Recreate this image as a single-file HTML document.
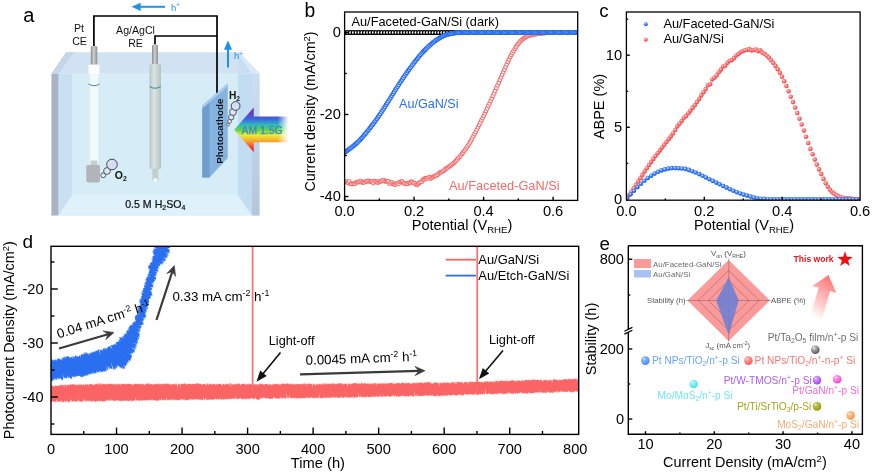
<!DOCTYPE html>
<html><head><meta charset="utf-8"><title>Figure</title>
<style>html,body{margin:0;padding:0;background:#fff;}svg{display:block;}text{font-family:"Liberation Sans", Arial, sans-serif;}</style>
</head><body>
<svg width="872" height="472" viewBox="0 0 872 472">
<rect width="872" height="472" fill="#fff"/>
<g id="panel-a">
<defs>
<linearGradient id="rainbow" x1="0" y1="0" x2="0" y2="1">
<stop offset="0" stop-color="#7a2aa8"/><stop offset="0.14" stop-color="#6440c8"/><stop offset="0.26" stop-color="#3a66dc"/><stop offset="0.38" stop-color="#2fb4c4"/>
<stop offset="0.5" stop-color="#5fd540"/><stop offset="0.62" stop-color="#ecec38"/><stop offset="0.76" stop-color="#f8a02a"/><stop offset="0.9" stop-color="#f03a34"/><stop offset="1" stop-color="#e82030"/>
</linearGradient>
<linearGradient id="fadeR" x1="0" y1="0" x2="1" y2="0"><stop offset="0" stop-color="#fff"/><stop offset="0.8" stop-color="#fff"/><stop offset="0.97" stop-color="#000"/></linearGradient>
<mask id="mfade"><rect x="228" y="100" width="62" height="60" fill="url(#fadeR)"/></mask>
<linearGradient id="rodg" x1="0" y1="0" x2="1" y2="0"><stop offset="0" stop-color="#8a8a8a"/><stop offset="0.45" stop-color="#cfcfcf"/><stop offset="1" stop-color="#8f8f8f"/></linearGradient>
<linearGradient id="tubeg" x1="0" y1="0" x2="1" y2="0"><stop offset="0" stop-color="#d6eaee"/><stop offset="0.25" stop-color="#f2fcfd"/><stop offset="0.8" stop-color="#eefafc"/><stop offset="1" stop-color="#d3e6ea"/></linearGradient>
<linearGradient id="reg" x1="0" y1="0" x2="1" y2="0"><stop offset="0" stop-color="#b7c5c5"/><stop offset="0.4" stop-color="#dbe5e4"/><stop offset="1" stop-color="#b4c2c2"/></linearGradient>
<linearGradient id="rwg" x1="0" y1="0" x2="0" y2="1"><stop offset="0" stop-color="#cbdef2"/><stop offset="0.45" stop-color="#c0d3ea"/><stop offset="1" stop-color="#b5c5dc"/></linearGradient>
<filter id="blur1"><feGaussianBlur stdDeviation="0.55"/></filter>
</defs>
<polygon points="66.0,52.3 239.0,52.3 259.5,73.7 51.5,73.7" fill="#d1e2f3" stroke="none" stroke-width="1.00" />
<polygon points="66.0,52.3 74.0,52.3 58.5,73.7 51.5,73.7" fill="#c3d6e9" stroke="none" stroke-width="1.00" />
<polygon points="239.0,52.3 259.5,73.7 238.0,73.7 238.0,52.3" fill="#c9def3" stroke="none" stroke-width="1.00" />
<polygon points="239.0,52.3 259.5,73.7 252.0,73.7 241.0,58.0" fill="#dae8f7" stroke="none" stroke-width="1.00" />
<rect x="51.50" y="73.70" width="208.00" height="141.80" fill="#d6ecf7" stroke="none" stroke-width="1.00" />
<polygon points="72.0,195.0 238.0,195.0 252.0,215.5 58.3,215.5" fill="#dff1fa" stroke="none" stroke-width="1.00" />
<polygon points="58.3,73.7 72.0,73.7 72.0,195.0 58.3,215.5" fill="#c8e0f1" stroke="none" stroke-width="1.00" />
<rect x="51.50" y="73.70" width="6.80" height="141.80" fill="#a8b4c4" stroke="none" stroke-width="1.00" />
<polygon points="238.0,73.7 252.0,73.7 252.0,215.5 238.0,195.0" fill="#c2dcf2" stroke="none" stroke-width="1.00" />
<rect x="252.00" y="73.70" width="7.50" height="141.80" fill="url(#rwg)" stroke="none" stroke-width="1.00" />
<path d="M93.9 46.5 V16 H217 V94" fill="none" stroke="#000" stroke-width="1.7"/>
<path d="M155 44.5 V36 H217" fill="none" stroke="#000" stroke-width="1.7"/>
<rect x="90.80" y="46.00" width="6.50" height="19.00" fill="url(#rodg)" stroke="none" stroke-width="1.00" rx="1.5"/>
<rect x="88.30" y="64.70" width="11.40" height="10.00" fill="#fbfdfe" stroke="#dde6ea" stroke-width="0.40" />
<rect x="88.30" y="74.40" width="11.40" height="87.00" fill="url(#tubeg)" stroke="none" stroke-width="1.00" />
<path d="M88.5 84 Q94 87.5 99.5 84" fill="none" stroke="#2f5f8f" stroke-width="0.8"/>
<rect x="91.00" y="160.50" width="6.00" height="5.00" fill="#c9cfd0" stroke="none" stroke-width="1.00" />
<rect x="86.30" y="165.00" width="13.70" height="17.50" fill="#aeb3b6" stroke="none" stroke-width="1.00" rx="2"/>
<line x1="86.50" y1="167.00" x2="99.80" y2="167.00" stroke="#babfc1" stroke-width="0.50" />
<line x1="86.50" y1="169.00" x2="99.80" y2="169.00" stroke="#babfc1" stroke-width="0.50" />
<line x1="86.50" y1="171.00" x2="99.80" y2="171.00" stroke="#babfc1" stroke-width="0.50" />
<line x1="86.50" y1="173.00" x2="99.80" y2="173.00" stroke="#babfc1" stroke-width="0.50" />
<line x1="86.50" y1="175.00" x2="99.80" y2="175.00" stroke="#babfc1" stroke-width="0.50" />
<line x1="86.50" y1="177.00" x2="99.80" y2="177.00" stroke="#babfc1" stroke-width="0.50" />
<line x1="86.50" y1="179.00" x2="99.80" y2="179.00" stroke="#babfc1" stroke-width="0.50" />
<line x1="86.50" y1="181.00" x2="99.80" y2="181.00" stroke="#babfc1" stroke-width="0.50" />
<circle cx="103.20" cy="175.30" r="2.40" fill="#e8ecf8" stroke="#222" stroke-width="0.70" />
<circle cx="107.00" cy="171.00" r="3.40" fill="#dfe5f6" stroke="#222" stroke-width="0.70" />
<circle cx="112.00" cy="164.50" r="5.30" fill="#d6def5" stroke="#222" stroke-width="0.80" />
<text x="114.80" y="178.60" font-size="10.50" text-anchor="start" fill="#111" font-weight="bold" >O<tspan dy="2.10" font-size="6.93">2</tspan></text>
<rect x="152.00" y="44.50" width="6.00" height="20.00" fill="url(#rodg)" stroke="none" stroke-width="1.00" rx="1.5"/>
<rect x="149.50" y="64.00" width="11.50" height="105.00" fill="url(#reg)" stroke="none" stroke-width="1.00" rx="1.5"/>
<path d="M149.7 86.5 Q155 90 160.8 86.5" fill="none" stroke="#2f5f8f" stroke-width="0.8"/>
<path d="M152.3 168.5 V179.5 Q155.3 184 158.3 179.5 V168.5 Z" fill="#c3cfcf"/>
<circle cx="155.30" cy="180.00" r="2.00" fill="#f6fafa" stroke="none" stroke-width="1.00" />
<polygon points="202.3,105.6 227.7,83.4 227.7,158.0 209.5,177.4 202.3,177.4" fill="#84b3df" stroke="none" stroke-width="1.00" />
<polygon points="202.3,108.4 209.5,102.2 209.5,177.4 202.3,177.4" fill="#6f9dcd" stroke="none" stroke-width="1.00" />
<polygon points="202.3,105.6 227.7,83.4 227.7,86.4 202.3,108.6" fill="#a8ccea" stroke="none" stroke-width="1.00" />
<text x="222.80" y="131.20" font-size="9.80" text-anchor="middle" fill="#111" font-weight="bold" transform="rotate(-90 222.80 131.20)" >Photocathode</text>
<circle cx="228.20" cy="124.50" r="1.40" fill="#eef" stroke="#222" stroke-width="0.60" />
<circle cx="229.60" cy="121.30" r="1.90" fill="#e8ecf8" stroke="#222" stroke-width="0.60" />
<circle cx="231.20" cy="117.20" r="2.70" fill="#e3e8f7" stroke="#222" stroke-width="0.70" />
<circle cx="233.00" cy="112.00" r="3.40" fill="#dfe5f6" stroke="#222" stroke-width="0.70" />
<circle cx="235.60" cy="106.00" r="4.40" fill="#d6def5" stroke="#222" stroke-width="0.80" />
<text x="229.00" y="98.80" font-size="10.20" text-anchor="start" fill="#111" font-weight="bold" >H<tspan dy="2.04" font-size="6.73">2</tspan></text>
<g mask="url(#mfade)" filter="url(#blur1)"><polygon points="234.3,129.8 253.8,107.5 253.8,116.6 290,116.6 290,142.2 253.8,142.2 253.8,152.2" fill="url(#rainbow)"/></g>
<text x="262.00" y="133.60" font-size="10.40" text-anchor="middle" fill="#3d80d4" font-weight="normal" stroke="#3d80d4" stroke-width="0.25">AM 1.5G</text>
<text x="155.30" y="207.50" font-size="10.60" text-anchor="middle" fill="#111" font-weight="normal" stroke="#111" stroke-width="0.22">0.5 M H<tspan dy="2.12" font-size="7.00">2</tspan><tspan dy="-2.12">SO</tspan><tspan dy="2.12" font-size="7.00">4</tspan></text>
<line x1="165.00" y1="6.80" x2="139.70" y2="6.80" stroke="#2191e8" stroke-width="2.00" />
<polygon points="131.5,6.8 140.7,2.7 140.7,10.9" fill="#2191e8" stroke="none" stroke-width="1.00" />
<text x="171.00" y="10.50" font-size="9.50" text-anchor="start" fill="#2191e8" font-weight="normal" >h<tspan dy="-3.42" font-size="6.27">+</tspan></text>
<line x1="228.00" y1="67.50" x2="228.00" y2="48.70" stroke="#2191e8" stroke-width="2.00" />
<polygon points="228.0,40.5 232.1,49.7 223.9,49.7" fill="#2191e8" stroke="none" stroke-width="1.00" />
<text x="234.00" y="59.00" font-size="9.50" text-anchor="start" fill="#2191e8" font-weight="normal" >h<tspan dy="-3.42" font-size="6.27">+</tspan></text>
<text x="23.30" y="22.10" font-size="20.00" text-anchor="start" fill="#000" font-weight="normal" >a</text>
<text x="79.00" y="31.80" font-size="10.60" text-anchor="middle" fill="#111" font-weight="normal" >Pt</text>
<text x="79.50" y="45.00" font-size="10.60" text-anchor="middle" fill="#111" font-weight="normal" >CE</text>
<text x="135.50" y="34.20" font-size="10.60" text-anchor="middle" fill="#111" font-weight="normal" >Ag/AgCl</text>
<text x="135.50" y="47.00" font-size="10.60" text-anchor="middle" fill="#111" font-weight="normal" >RE</text>
</g>
<g id="panel-b">
<clipPath id="clipb"><rect x="344.6" y="12.0" width="233.1" height="188.4"/></clipPath><g clip-path="url(#clipb)">
<g fill="#fff" stroke="#000" stroke-width="1.30">
<circle cx="344.6" cy="32.5" r="1.90"/>
<circle cx="347.4" cy="32.5" r="1.90"/>
<circle cx="350.3" cy="32.5" r="1.90"/>
<circle cx="353.1" cy="32.5" r="1.90"/>
<circle cx="356.0" cy="32.5" r="1.90"/>
<circle cx="358.8" cy="32.5" r="1.90"/>
<circle cx="361.7" cy="32.5" r="1.90"/>
<circle cx="364.5" cy="32.5" r="1.90"/>
<circle cx="367.4" cy="32.5" r="1.90"/>
<circle cx="370.2" cy="32.5" r="1.90"/>
<circle cx="373.1" cy="32.5" r="1.90"/>
<circle cx="375.9" cy="32.5" r="1.90"/>
<circle cx="378.8" cy="32.5" r="1.90"/>
<circle cx="381.6" cy="32.5" r="1.90"/>
<circle cx="384.5" cy="32.5" r="1.90"/>
<circle cx="387.3" cy="32.5" r="1.90"/>
<circle cx="390.2" cy="32.5" r="1.90"/>
<circle cx="393.0" cy="32.5" r="1.90"/>
<circle cx="395.9" cy="32.5" r="1.90"/>
<circle cx="398.7" cy="32.5" r="1.90"/>
<circle cx="401.6" cy="32.5" r="1.90"/>
<circle cx="404.4" cy="32.5" r="1.90"/>
<circle cx="407.3" cy="32.5" r="1.90"/>
<circle cx="410.1" cy="32.5" r="1.90"/>
<circle cx="413.0" cy="32.5" r="1.90"/>
<circle cx="415.8" cy="32.5" r="1.90"/>
<circle cx="418.7" cy="32.5" r="1.90"/>
<circle cx="421.5" cy="32.5" r="1.90"/>
<circle cx="424.4" cy="32.5" r="1.90"/>
<circle cx="427.2" cy="32.5" r="1.90"/>
<circle cx="430.1" cy="32.5" r="1.90"/>
<circle cx="432.9" cy="32.5" r="1.90"/>
<circle cx="435.8" cy="32.5" r="1.90"/>
<circle cx="438.6" cy="32.5" r="1.90"/>
<circle cx="441.5" cy="32.5" r="1.90"/>
<circle cx="444.3" cy="32.5" r="1.90"/>
<circle cx="447.2" cy="32.5" r="1.90"/>
<circle cx="450.0" cy="32.5" r="1.90"/>
<circle cx="452.9" cy="32.5" r="1.90"/>
<circle cx="455.7" cy="32.5" r="1.90"/>
<circle cx="458.6" cy="32.5" r="1.90"/>
<circle cx="461.4" cy="32.5" r="1.90"/>
<circle cx="464.3" cy="32.5" r="1.90"/>
<circle cx="467.1" cy="32.5" r="1.90"/>
<circle cx="470.0" cy="32.5" r="1.90"/>
<circle cx="472.8" cy="32.5" r="1.90"/>
<circle cx="475.7" cy="32.5" r="1.90"/>
<circle cx="478.5" cy="32.5" r="1.90"/>
<circle cx="481.4" cy="32.5" r="1.90"/>
<circle cx="484.2" cy="32.5" r="1.90"/>
<circle cx="487.1" cy="32.5" r="1.90"/>
<circle cx="489.9" cy="32.5" r="1.90"/>
<circle cx="492.8" cy="32.5" r="1.90"/>
<circle cx="495.6" cy="32.5" r="1.90"/>
<circle cx="498.5" cy="32.5" r="1.90"/>
<circle cx="501.3" cy="32.5" r="1.90"/>
<circle cx="504.2" cy="32.5" r="1.90"/>
<circle cx="507.0" cy="32.5" r="1.90"/>
<circle cx="509.9" cy="32.5" r="1.90"/>
<circle cx="512.7" cy="32.5" r="1.90"/>
<circle cx="515.6" cy="32.5" r="1.90"/>
<circle cx="518.4" cy="32.5" r="1.90"/>
<circle cx="521.3" cy="32.5" r="1.90"/>
<circle cx="524.1" cy="32.5" r="1.90"/>
<circle cx="527.0" cy="32.5" r="1.90"/>
<circle cx="529.8" cy="32.5" r="1.90"/>
<circle cx="532.7" cy="32.5" r="1.90"/>
<circle cx="535.5" cy="32.5" r="1.90"/>
<circle cx="538.4" cy="32.5" r="1.90"/>
<circle cx="541.2" cy="32.5" r="1.90"/>
<circle cx="544.1" cy="32.5" r="1.90"/>
<circle cx="546.9" cy="32.5" r="1.90"/>
<circle cx="549.8" cy="32.5" r="1.90"/>
<circle cx="552.6" cy="32.5" r="1.90"/>
<circle cx="555.5" cy="32.5" r="1.90"/>
<circle cx="558.3" cy="32.5" r="1.90"/>
<circle cx="561.2" cy="32.5" r="1.90"/>
<circle cx="564.0" cy="32.5" r="1.90"/>
<circle cx="566.9" cy="32.5" r="1.90"/>
<circle cx="569.7" cy="32.5" r="1.90"/>
<circle cx="572.6" cy="32.5" r="1.90"/>
<circle cx="575.4" cy="32.5" r="1.90"/>
</g>
<g fill="#fff" stroke="#f56a6a" stroke-width="1.05">
<circle cx="344.6" cy="181.8" r="1.85"/>
<circle cx="345.8" cy="181.6" r="1.85"/>
<circle cx="346.9" cy="181.7" r="1.85"/>
<circle cx="348.0" cy="182.9" r="1.85"/>
<circle cx="349.2" cy="181.7" r="1.85"/>
<circle cx="350.3" cy="183.8" r="1.85"/>
<circle cx="351.5" cy="183.7" r="1.85"/>
<circle cx="352.6" cy="184.1" r="1.85"/>
<circle cx="353.8" cy="183.8" r="1.85"/>
<circle cx="354.9" cy="183.7" r="1.85"/>
<circle cx="356.1" cy="182.5" r="1.85"/>
<circle cx="357.2" cy="181.8" r="1.85"/>
<circle cx="358.4" cy="182.2" r="1.85"/>
<circle cx="359.5" cy="181.8" r="1.85"/>
<circle cx="360.7" cy="181.0" r="1.85"/>
<circle cx="361.8" cy="182.5" r="1.85"/>
<circle cx="363.0" cy="182.3" r="1.85"/>
<circle cx="364.1" cy="182.4" r="1.85"/>
<circle cx="365.3" cy="181.5" r="1.85"/>
<circle cx="366.4" cy="181.6" r="1.85"/>
<circle cx="367.6" cy="181.2" r="1.85"/>
<circle cx="368.7" cy="180.8" r="1.85"/>
<circle cx="369.9" cy="181.4" r="1.85"/>
<circle cx="371.0" cy="181.7" r="1.85"/>
<circle cx="372.2" cy="181.6" r="1.85"/>
<circle cx="373.3" cy="183.1" r="1.85"/>
<circle cx="374.5" cy="181.2" r="1.85"/>
<circle cx="375.6" cy="181.6" r="1.85"/>
<circle cx="376.8" cy="181.6" r="1.85"/>
<circle cx="377.9" cy="182.7" r="1.85"/>
<circle cx="379.1" cy="181.8" r="1.85"/>
<circle cx="380.2" cy="181.7" r="1.85"/>
<circle cx="381.4" cy="181.1" r="1.85"/>
<circle cx="382.5" cy="180.7" r="1.85"/>
<circle cx="383.7" cy="180.1" r="1.85"/>
<circle cx="384.8" cy="181.3" r="1.85"/>
<circle cx="386.0" cy="181.2" r="1.85"/>
<circle cx="387.1" cy="181.8" r="1.85"/>
<circle cx="388.3" cy="181.3" r="1.85"/>
<circle cx="389.4" cy="183.6" r="1.85"/>
<circle cx="390.6" cy="182.3" r="1.85"/>
<circle cx="391.7" cy="182.3" r="1.85"/>
<circle cx="392.9" cy="183.8" r="1.85"/>
<circle cx="394.0" cy="184.3" r="1.85"/>
<circle cx="395.2" cy="184.6" r="1.85"/>
<circle cx="396.3" cy="183.3" r="1.85"/>
<circle cx="397.5" cy="183.7" r="1.85"/>
<circle cx="398.6" cy="183.8" r="1.85"/>
<circle cx="399.8" cy="182.0" r="1.85"/>
<circle cx="400.9" cy="181.9" r="1.85"/>
<circle cx="402.1" cy="181.4" r="1.85"/>
<circle cx="403.2" cy="182.8" r="1.85"/>
<circle cx="404.4" cy="183.4" r="1.85"/>
<circle cx="405.5" cy="183.7" r="1.85"/>
<circle cx="406.7" cy="183.8" r="1.85"/>
<circle cx="407.8" cy="183.9" r="1.85"/>
<circle cx="409.0" cy="182.8" r="1.85"/>
<circle cx="410.1" cy="182.8" r="1.85"/>
<circle cx="411.3" cy="181.6" r="1.85"/>
<circle cx="412.4" cy="181.9" r="1.85"/>
<circle cx="413.6" cy="183.0" r="1.85"/>
<circle cx="414.7" cy="183.2" r="1.85"/>
<circle cx="415.9" cy="184.5" r="1.85"/>
<circle cx="417.0" cy="185.1" r="1.85"/>
<circle cx="418.2" cy="184.1" r="1.85"/>
<circle cx="419.3" cy="182.8" r="1.85"/>
<circle cx="420.5" cy="181.9" r="1.85"/>
<circle cx="421.6" cy="182.0" r="1.85"/>
<circle cx="422.8" cy="179.9" r="1.85"/>
<circle cx="423.9" cy="179.4" r="1.85"/>
<circle cx="425.1" cy="178.4" r="1.85"/>
<circle cx="426.2" cy="178.0" r="1.85"/>
<circle cx="427.4" cy="178.4" r="1.85"/>
<circle cx="428.5" cy="177.5" r="1.85"/>
<circle cx="429.7" cy="177.2" r="1.85"/>
<circle cx="430.8" cy="178.6" r="1.85"/>
<circle cx="432.0" cy="177.6" r="1.85"/>
<circle cx="433.1" cy="177.1" r="1.85"/>
<circle cx="434.3" cy="176.1" r="1.85"/>
<circle cx="435.4" cy="175.9" r="1.85"/>
<circle cx="436.6" cy="175.4" r="1.85"/>
<circle cx="437.7" cy="174.7" r="1.85"/>
<circle cx="438.9" cy="173.4" r="1.85"/>
<circle cx="440.0" cy="172.7" r="1.85"/>
<circle cx="441.2" cy="172.3" r="1.85"/>
<circle cx="442.3" cy="171.5" r="1.85"/>
<circle cx="443.5" cy="171.0" r="1.85"/>
<circle cx="444.6" cy="169.9" r="1.85"/>
<circle cx="445.8" cy="168.7" r="1.85"/>
<circle cx="446.9" cy="168.3" r="1.85"/>
<circle cx="448.1" cy="167.4" r="1.85"/>
<circle cx="449.2" cy="166.5" r="1.85"/>
<circle cx="450.4" cy="165.8" r="1.85"/>
<circle cx="451.5" cy="164.8" r="1.85"/>
<circle cx="452.7" cy="163.8" r="1.85"/>
<circle cx="453.8" cy="163.0" r="1.85"/>
<circle cx="455.0" cy="161.8" r="1.85"/>
<circle cx="456.1" cy="160.7" r="1.85"/>
<circle cx="457.3" cy="159.4" r="1.85"/>
<circle cx="458.4" cy="158.1" r="1.85"/>
<circle cx="459.6" cy="156.8" r="1.85"/>
<circle cx="460.7" cy="155.5" r="1.85"/>
<circle cx="461.9" cy="154.0" r="1.85"/>
<circle cx="463.0" cy="152.6" r="1.85"/>
<circle cx="464.2" cy="151.1" r="1.85"/>
<circle cx="465.3" cy="149.5" r="1.85"/>
<circle cx="466.5" cy="147.9" r="1.85"/>
<circle cx="467.6" cy="146.2" r="1.85"/>
<circle cx="468.8" cy="144.4" r="1.85"/>
<circle cx="469.9" cy="142.4" r="1.85"/>
<circle cx="471.1" cy="140.5" r="1.85"/>
<circle cx="472.2" cy="138.4" r="1.85"/>
<circle cx="473.4" cy="136.3" r="1.85"/>
<circle cx="474.5" cy="134.1" r="1.85"/>
<circle cx="475.7" cy="131.9" r="1.85"/>
<circle cx="476.8" cy="129.6" r="1.85"/>
<circle cx="478.0" cy="127.3" r="1.85"/>
<circle cx="479.1" cy="125.0" r="1.85"/>
<circle cx="480.3" cy="122.7" r="1.85"/>
<circle cx="481.4" cy="120.4" r="1.85"/>
<circle cx="482.6" cy="118.1" r="1.85"/>
<circle cx="483.7" cy="115.8" r="1.85"/>
<circle cx="484.9" cy="113.4" r="1.85"/>
<circle cx="486.0" cy="111.0" r="1.85"/>
<circle cx="487.2" cy="108.6" r="1.85"/>
<circle cx="488.3" cy="106.1" r="1.85"/>
<circle cx="489.5" cy="103.6" r="1.85"/>
<circle cx="490.6" cy="101.1" r="1.85"/>
<circle cx="491.8" cy="98.6" r="1.85"/>
<circle cx="492.9" cy="96.0" r="1.85"/>
<circle cx="494.1" cy="93.4" r="1.85"/>
<circle cx="495.2" cy="90.7" r="1.85"/>
<circle cx="496.4" cy="88.0" r="1.85"/>
<circle cx="497.5" cy="85.3" r="1.85"/>
<circle cx="498.7" cy="82.7" r="1.85"/>
<circle cx="499.8" cy="80.0" r="1.85"/>
<circle cx="501.0" cy="77.3" r="1.85"/>
<circle cx="502.1" cy="74.8" r="1.85"/>
<circle cx="503.3" cy="72.2" r="1.85"/>
<circle cx="504.4" cy="69.7" r="1.85"/>
<circle cx="505.6" cy="67.1" r="1.85"/>
<circle cx="506.7" cy="64.5" r="1.85"/>
<circle cx="507.9" cy="61.9" r="1.85"/>
<circle cx="509.0" cy="59.5" r="1.85"/>
<circle cx="510.2" cy="57.1" r="1.85"/>
<circle cx="511.3" cy="54.9" r="1.85"/>
<circle cx="512.5" cy="52.8" r="1.85"/>
<circle cx="513.6" cy="50.9" r="1.85"/>
<circle cx="514.8" cy="49.0" r="1.85"/>
<circle cx="515.9" cy="47.2" r="1.85"/>
<circle cx="517.1" cy="45.4" r="1.85"/>
<circle cx="518.2" cy="43.8" r="1.85"/>
<circle cx="519.4" cy="42.4" r="1.85"/>
<circle cx="520.5" cy="41.1" r="1.85"/>
<circle cx="521.7" cy="40.1" r="1.85"/>
<circle cx="522.8" cy="39.2" r="1.85"/>
<circle cx="524.0" cy="38.3" r="1.85"/>
<circle cx="525.1" cy="37.5" r="1.85"/>
<circle cx="526.3" cy="36.8" r="1.85"/>
<circle cx="527.4" cy="36.2" r="1.85"/>
<circle cx="528.6" cy="35.7" r="1.85"/>
<circle cx="529.7" cy="35.3" r="1.85"/>
<circle cx="530.9" cy="35.0" r="1.85"/>
<circle cx="532.0" cy="34.8" r="1.85"/>
<circle cx="533.2" cy="34.6" r="1.85"/>
<circle cx="534.3" cy="34.3" r="1.85"/>
<circle cx="535.5" cy="34.2" r="1.85"/>
<circle cx="536.6" cy="34.0" r="1.85"/>
<circle cx="537.8" cy="33.8" r="1.85"/>
<circle cx="538.9" cy="33.7" r="1.85"/>
<circle cx="540.1" cy="33.6" r="1.85"/>
<circle cx="541.2" cy="33.5" r="1.85"/>
<circle cx="542.4" cy="33.3" r="1.85"/>
<circle cx="543.5" cy="33.2" r="1.85"/>
<circle cx="544.7" cy="33.1" r="1.85"/>
<circle cx="545.8" cy="32.9" r="1.85"/>
<circle cx="547.0" cy="32.8" r="1.85"/>
<circle cx="548.1" cy="32.7" r="1.85"/>
<circle cx="549.3" cy="32.6" r="1.85"/>
<circle cx="550.4" cy="32.6" r="1.85"/>
<circle cx="551.6" cy="32.5" r="1.85"/>
<circle cx="552.7" cy="32.5" r="1.85"/>
<circle cx="553.9" cy="32.5" r="1.85"/>
<circle cx="555.0" cy="32.5" r="1.85"/>
<circle cx="556.2" cy="32.5" r="1.85"/>
<circle cx="557.3" cy="32.5" r="1.85"/>
<circle cx="558.5" cy="32.5" r="1.85"/>
<circle cx="559.6" cy="32.5" r="1.85"/>
<circle cx="560.8" cy="32.5" r="1.85"/>
<circle cx="561.9" cy="32.5" r="1.85"/>
<circle cx="563.1" cy="32.5" r="1.85"/>
<circle cx="564.2" cy="32.5" r="1.85"/>
<circle cx="565.4" cy="32.5" r="1.85"/>
<circle cx="566.5" cy="32.5" r="1.85"/>
<circle cx="567.7" cy="32.5" r="1.85"/>
<circle cx="568.8" cy="32.5" r="1.85"/>
<circle cx="570.0" cy="32.5" r="1.85"/>
<circle cx="571.1" cy="32.5" r="1.85"/>
<circle cx="572.3" cy="32.5" r="1.85"/>
<circle cx="573.4" cy="32.5" r="1.85"/>
<circle cx="574.6" cy="32.5" r="1.85"/>
<circle cx="575.7" cy="32.5" r="1.85"/>
<circle cx="576.9" cy="32.5" r="1.85"/>
<circle cx="578.0" cy="32.5" r="1.85"/>
</g>
<g fill="#fff" stroke="#2a6ff0" stroke-width="1.30">
<circle cx="344.6" cy="152.6" r="1.80"/>
<circle cx="345.8" cy="151.8" r="1.80"/>
<circle cx="346.9" cy="150.9" r="1.80"/>
<circle cx="348.0" cy="150.1" r="1.80"/>
<circle cx="349.2" cy="149.2" r="1.80"/>
<circle cx="350.3" cy="148.4" r="1.80"/>
<circle cx="351.5" cy="147.5" r="1.80"/>
<circle cx="352.6" cy="146.6" r="1.80"/>
<circle cx="353.8" cy="145.7" r="1.80"/>
<circle cx="354.9" cy="144.8" r="1.80"/>
<circle cx="356.1" cy="143.8" r="1.80"/>
<circle cx="357.2" cy="142.7" r="1.80"/>
<circle cx="358.4" cy="141.6" r="1.80"/>
<circle cx="359.5" cy="140.4" r="1.80"/>
<circle cx="360.7" cy="139.2" r="1.80"/>
<circle cx="361.8" cy="137.9" r="1.80"/>
<circle cx="363.0" cy="136.6" r="1.80"/>
<circle cx="364.1" cy="135.3" r="1.80"/>
<circle cx="365.3" cy="133.9" r="1.80"/>
<circle cx="366.4" cy="132.5" r="1.80"/>
<circle cx="367.6" cy="131.1" r="1.80"/>
<circle cx="368.7" cy="129.7" r="1.80"/>
<circle cx="369.9" cy="128.3" r="1.80"/>
<circle cx="371.0" cy="126.8" r="1.80"/>
<circle cx="372.2" cy="125.3" r="1.80"/>
<circle cx="373.3" cy="123.8" r="1.80"/>
<circle cx="374.5" cy="122.3" r="1.80"/>
<circle cx="375.6" cy="120.7" r="1.80"/>
<circle cx="376.8" cy="119.1" r="1.80"/>
<circle cx="377.9" cy="117.4" r="1.80"/>
<circle cx="379.1" cy="115.8" r="1.80"/>
<circle cx="380.2" cy="114.1" r="1.80"/>
<circle cx="381.4" cy="112.3" r="1.80"/>
<circle cx="382.5" cy="110.5" r="1.80"/>
<circle cx="383.7" cy="108.7" r="1.80"/>
<circle cx="384.8" cy="106.9" r="1.80"/>
<circle cx="386.0" cy="105.0" r="1.80"/>
<circle cx="387.1" cy="103.2" r="1.80"/>
<circle cx="388.3" cy="101.4" r="1.80"/>
<circle cx="389.4" cy="99.6" r="1.80"/>
<circle cx="390.6" cy="97.8" r="1.80"/>
<circle cx="391.7" cy="95.9" r="1.80"/>
<circle cx="392.9" cy="94.1" r="1.80"/>
<circle cx="394.0" cy="92.2" r="1.80"/>
<circle cx="395.2" cy="90.3" r="1.80"/>
<circle cx="396.3" cy="88.5" r="1.80"/>
<circle cx="397.5" cy="86.7" r="1.80"/>
<circle cx="398.6" cy="84.9" r="1.80"/>
<circle cx="399.8" cy="83.1" r="1.80"/>
<circle cx="400.9" cy="81.4" r="1.80"/>
<circle cx="402.1" cy="79.7" r="1.80"/>
<circle cx="403.2" cy="78.0" r="1.80"/>
<circle cx="404.4" cy="76.3" r="1.80"/>
<circle cx="405.5" cy="74.6" r="1.80"/>
<circle cx="406.7" cy="72.9" r="1.80"/>
<circle cx="407.8" cy="71.3" r="1.80"/>
<circle cx="409.0" cy="69.7" r="1.80"/>
<circle cx="410.1" cy="68.1" r="1.80"/>
<circle cx="411.3" cy="66.6" r="1.80"/>
<circle cx="412.4" cy="65.0" r="1.80"/>
<circle cx="413.6" cy="63.5" r="1.80"/>
<circle cx="414.7" cy="62.0" r="1.80"/>
<circle cx="415.9" cy="60.6" r="1.80"/>
<circle cx="417.0" cy="59.1" r="1.80"/>
<circle cx="418.2" cy="57.7" r="1.80"/>
<circle cx="419.3" cy="56.3" r="1.80"/>
<circle cx="420.5" cy="54.9" r="1.80"/>
<circle cx="421.6" cy="53.6" r="1.80"/>
<circle cx="422.8" cy="52.3" r="1.80"/>
<circle cx="423.9" cy="51.0" r="1.80"/>
<circle cx="425.1" cy="49.9" r="1.80"/>
<circle cx="426.2" cy="48.7" r="1.80"/>
<circle cx="427.4" cy="47.6" r="1.80"/>
<circle cx="428.5" cy="46.5" r="1.80"/>
<circle cx="429.7" cy="45.4" r="1.80"/>
<circle cx="430.8" cy="44.4" r="1.80"/>
<circle cx="432.0" cy="43.4" r="1.80"/>
<circle cx="433.1" cy="42.5" r="1.80"/>
<circle cx="434.3" cy="41.6" r="1.80"/>
<circle cx="435.4" cy="40.8" r="1.80"/>
<circle cx="436.6" cy="40.0" r="1.80"/>
<circle cx="437.7" cy="39.3" r="1.80"/>
<circle cx="438.9" cy="38.5" r="1.80"/>
<circle cx="440.0" cy="37.8" r="1.80"/>
<circle cx="441.2" cy="37.1" r="1.80"/>
<circle cx="442.3" cy="36.5" r="1.80"/>
<circle cx="443.5" cy="36.0" r="1.80"/>
<circle cx="444.6" cy="35.5" r="1.80"/>
<circle cx="445.8" cy="35.1" r="1.80"/>
<circle cx="446.9" cy="34.8" r="1.80"/>
<circle cx="448.1" cy="34.4" r="1.80"/>
<circle cx="449.2" cy="34.1" r="1.80"/>
<circle cx="450.4" cy="33.8" r="1.80"/>
<circle cx="451.5" cy="33.6" r="1.80"/>
<circle cx="452.7" cy="33.4" r="1.80"/>
<circle cx="453.8" cy="33.2" r="1.80"/>
<circle cx="455.0" cy="33.0" r="1.80"/>
<circle cx="456.1" cy="32.9" r="1.80"/>
<circle cx="457.3" cy="32.8" r="1.80"/>
<circle cx="458.4" cy="32.7" r="1.80"/>
<circle cx="459.6" cy="32.7" r="1.80"/>
<circle cx="460.7" cy="32.6" r="1.80"/>
<circle cx="461.9" cy="32.6" r="1.80"/>
<circle cx="463.0" cy="32.5" r="1.80"/>
<circle cx="464.2" cy="32.5" r="1.80"/>
<circle cx="465.3" cy="32.5" r="1.80"/>
<circle cx="466.5" cy="32.5" r="1.80"/>
<circle cx="467.6" cy="32.5" r="1.80"/>
<circle cx="468.8" cy="32.5" r="1.80"/>
<circle cx="469.9" cy="32.5" r="1.80"/>
<circle cx="471.1" cy="32.5" r="1.80"/>
<circle cx="472.2" cy="32.5" r="1.80"/>
<circle cx="473.4" cy="32.5" r="1.80"/>
<circle cx="474.5" cy="32.5" r="1.80"/>
<circle cx="475.7" cy="32.5" r="1.80"/>
<circle cx="476.8" cy="32.5" r="1.80"/>
<circle cx="478.0" cy="32.5" r="1.80"/>
<circle cx="479.1" cy="32.5" r="1.80"/>
<circle cx="480.3" cy="32.5" r="1.80"/>
<circle cx="481.4" cy="32.5" r="1.80"/>
<circle cx="482.6" cy="32.5" r="1.80"/>
<circle cx="483.7" cy="32.5" r="1.80"/>
<circle cx="484.9" cy="32.5" r="1.80"/>
<circle cx="486.0" cy="32.5" r="1.80"/>
<circle cx="487.2" cy="32.5" r="1.80"/>
<circle cx="488.3" cy="32.5" r="1.80"/>
<circle cx="489.5" cy="32.5" r="1.80"/>
<circle cx="490.6" cy="32.5" r="1.80"/>
<circle cx="491.8" cy="32.5" r="1.80"/>
<circle cx="492.9" cy="32.5" r="1.80"/>
<circle cx="494.1" cy="32.5" r="1.80"/>
<circle cx="495.2" cy="32.5" r="1.80"/>
<circle cx="496.4" cy="32.5" r="1.80"/>
<circle cx="497.5" cy="32.5" r="1.80"/>
<circle cx="498.7" cy="32.5" r="1.80"/>
<circle cx="499.8" cy="32.5" r="1.80"/>
<circle cx="501.0" cy="32.5" r="1.80"/>
<circle cx="502.1" cy="32.5" r="1.80"/>
<circle cx="503.3" cy="32.5" r="1.80"/>
<circle cx="504.4" cy="32.5" r="1.80"/>
<circle cx="505.6" cy="32.5" r="1.80"/>
<circle cx="506.7" cy="32.5" r="1.80"/>
<circle cx="507.9" cy="32.5" r="1.80"/>
<circle cx="509.0" cy="32.5" r="1.80"/>
<circle cx="510.2" cy="32.5" r="1.80"/>
<circle cx="511.3" cy="32.5" r="1.80"/>
<circle cx="512.5" cy="32.5" r="1.80"/>
<circle cx="513.6" cy="32.5" r="1.80"/>
<circle cx="514.8" cy="32.5" r="1.80"/>
<circle cx="515.9" cy="32.5" r="1.80"/>
<circle cx="517.1" cy="32.5" r="1.80"/>
<circle cx="518.2" cy="32.5" r="1.80"/>
<circle cx="519.4" cy="32.5" r="1.80"/>
<circle cx="520.5" cy="32.5" r="1.80"/>
<circle cx="521.7" cy="32.5" r="1.80"/>
<circle cx="522.8" cy="32.5" r="1.80"/>
<circle cx="524.0" cy="32.5" r="1.80"/>
<circle cx="525.1" cy="32.5" r="1.80"/>
<circle cx="526.3" cy="32.5" r="1.80"/>
<circle cx="527.4" cy="32.5" r="1.80"/>
<circle cx="528.6" cy="32.5" r="1.80"/>
<circle cx="529.7" cy="32.5" r="1.80"/>
<circle cx="530.9" cy="32.5" r="1.80"/>
<circle cx="532.0" cy="32.5" r="1.80"/>
<circle cx="533.2" cy="32.5" r="1.80"/>
<circle cx="534.3" cy="32.5" r="1.80"/>
<circle cx="535.5" cy="32.5" r="1.80"/>
<circle cx="536.6" cy="32.5" r="1.80"/>
<circle cx="537.8" cy="32.5" r="1.80"/>
<circle cx="538.9" cy="32.5" r="1.80"/>
<circle cx="540.1" cy="32.5" r="1.80"/>
<circle cx="541.2" cy="32.5" r="1.80"/>
<circle cx="542.4" cy="32.5" r="1.80"/>
<circle cx="543.5" cy="32.5" r="1.80"/>
<circle cx="544.7" cy="32.5" r="1.80"/>
<circle cx="545.8" cy="32.5" r="1.80"/>
<circle cx="547.0" cy="32.5" r="1.80"/>
<circle cx="548.1" cy="32.5" r="1.80"/>
<circle cx="549.3" cy="32.5" r="1.80"/>
<circle cx="550.4" cy="32.5" r="1.80"/>
<circle cx="551.6" cy="32.5" r="1.80"/>
<circle cx="552.7" cy="32.5" r="1.80"/>
<circle cx="553.9" cy="32.5" r="1.80"/>
<circle cx="555.0" cy="32.5" r="1.80"/>
<circle cx="556.2" cy="32.5" r="1.80"/>
<circle cx="557.3" cy="32.5" r="1.80"/>
<circle cx="558.5" cy="32.5" r="1.80"/>
<circle cx="559.6" cy="32.5" r="1.80"/>
<circle cx="560.8" cy="32.5" r="1.80"/>
<circle cx="561.9" cy="32.5" r="1.80"/>
<circle cx="563.1" cy="32.5" r="1.80"/>
<circle cx="564.2" cy="32.5" r="1.80"/>
<circle cx="565.4" cy="32.5" r="1.80"/>
<circle cx="566.5" cy="32.5" r="1.80"/>
<circle cx="567.7" cy="32.5" r="1.80"/>
<circle cx="568.8" cy="32.5" r="1.80"/>
<circle cx="570.0" cy="32.5" r="1.80"/>
<circle cx="571.1" cy="32.5" r="1.80"/>
<circle cx="572.3" cy="32.5" r="1.80"/>
<circle cx="573.4" cy="32.5" r="1.80"/>
<circle cx="574.6" cy="32.5" r="1.80"/>
<circle cx="575.7" cy="32.5" r="1.80"/>
<circle cx="576.9" cy="32.5" r="1.80"/>
<circle cx="578.0" cy="32.5" r="1.80"/>
</g>
</g>
<rect x="344.60" y="12.00" width="233.10" height="188.40" fill="none" stroke="#000" stroke-width="1.30" />
<line x1="344.60" y1="200.40" x2="344.60" y2="196.80" stroke="#000" stroke-width="1.40" />
<text x="344.60" y="215.80" font-size="14.70" text-anchor="middle" fill="#000" font-weight="normal" >0.0</text>
<line x1="414.10" y1="200.40" x2="414.10" y2="196.80" stroke="#000" stroke-width="1.40" />
<text x="414.10" y="215.80" font-size="14.70" text-anchor="middle" fill="#000" font-weight="normal" >0.2</text>
<line x1="483.60" y1="200.40" x2="483.60" y2="196.80" stroke="#000" stroke-width="1.40" />
<text x="483.60" y="215.80" font-size="14.70" text-anchor="middle" fill="#000" font-weight="normal" >0.4</text>
<line x1="553.10" y1="200.40" x2="553.10" y2="196.80" stroke="#000" stroke-width="1.40" />
<text x="553.10" y="215.80" font-size="14.70" text-anchor="middle" fill="#000" font-weight="normal" >0.6</text>
<line x1="379.35" y1="200.40" x2="379.35" y2="198.40" stroke="#000" stroke-width="1.40" />
<line x1="448.85" y1="200.40" x2="448.85" y2="198.40" stroke="#000" stroke-width="1.40" />
<line x1="518.35" y1="200.40" x2="518.35" y2="198.40" stroke="#000" stroke-width="1.40" />
<line x1="344.60" y1="32.50" x2="348.40" y2="32.50" stroke="#000" stroke-width="1.40" />
<text x="340.90" y="36.90" font-size="14.70" text-anchor="end" fill="#000" font-weight="normal" >0</text>
<line x1="344.60" y1="114.50" x2="348.40" y2="114.50" stroke="#000" stroke-width="1.40" />
<text x="340.90" y="118.90" font-size="14.70" text-anchor="end" fill="#000" font-weight="normal" >-20</text>
<line x1="344.60" y1="196.50" x2="348.40" y2="196.50" stroke="#000" stroke-width="1.40" />
<text x="340.90" y="200.90" font-size="14.70" text-anchor="end" fill="#000" font-weight="normal" >-40</text>
<line x1="344.60" y1="73.50" x2="346.80" y2="73.50" stroke="#000" stroke-width="1.40" />
<line x1="344.60" y1="155.50" x2="346.80" y2="155.50" stroke="#000" stroke-width="1.40" />
<text x="315.30" y="111.50" font-size="14.30" text-anchor="middle" fill="#000" font-weight="normal" transform="rotate(-90 315.30 111.50)" >Current density (mA/cm<tspan dy="-5.15" font-size="9.44">2</tspan><tspan dy="5.15">)</tspan></text>
<text x="462.00" y="229.60" font-size="14.60" text-anchor="middle" fill="#000" font-weight="normal" >Potential (V<tspan dy="2.92" font-size="9.64">RHE</tspan><tspan dy="-2.92">)</tspan></text>
<text x="304.50" y="17.20" font-size="19.30" text-anchor="start" fill="#000" font-weight="normal" >b</text>
<text x="351.50" y="26.00" font-size="12.75" text-anchor="start" fill="#000" font-weight="normal" >Au/Faceted-GaN/Si (dark)</text>
<text x="399.00" y="108.00" font-size="12.60" text-anchor="start" fill="#2a6ff0" font-weight="normal" >Au/GaN/Si</text>
<text x="449.00" y="190.40" font-size="12.75" text-anchor="start" fill="#f56a6a" font-weight="normal" >Au/Faceted-GaN/Si</text>
</g>
<g id="panel-c">
<defs><radialGradient id="cbr" cx="0.4" cy="0.38" r="0.6"><stop offset="0" stop-color="#fbd5d5"/><stop offset="0.3" stop-color="#f99"/><stop offset="0.62" stop-color="#f56060"/><stop offset="1" stop-color="#f05050"/></radialGradient>
<radialGradient id="cbb" cx="0.4" cy="0.38" r="0.6"><stop offset="0" stop-color="#cfe0ff"/><stop offset="0.3" stop-color="#7fabf8"/><stop offset="0.62" stop-color="#2a6df0"/><stop offset="1" stop-color="#1f60e0"/></radialGradient></defs>
<clipPath id="clipc"><rect x="626.4" y="12.0" width="233.7" height="188.2"/></clipPath><g clip-path="url(#clipc)">
<g fill="url(#cbr)">
<circle cx="627.2" cy="197.7" r="2.30"/>
<circle cx="629.4" cy="194.7" r="2.30"/>
<circle cx="631.5" cy="191.5" r="2.30"/>
<circle cx="633.7" cy="188.2" r="2.30"/>
<circle cx="635.9" cy="184.9" r="2.30"/>
<circle cx="638.1" cy="181.5" r="2.30"/>
<circle cx="640.3" cy="178.2" r="2.30"/>
<circle cx="642.4" cy="174.9" r="2.30"/>
<circle cx="644.6" cy="171.5" r="2.30"/>
<circle cx="646.8" cy="168.2" r="2.30"/>
<circle cx="649.0" cy="165.0" r="2.30"/>
<circle cx="651.2" cy="161.9" r="2.30"/>
<circle cx="653.4" cy="158.9" r="2.30"/>
<circle cx="655.5" cy="156.0" r="2.30"/>
<circle cx="657.7" cy="153.2" r="2.30"/>
<circle cx="659.9" cy="150.4" r="2.30"/>
<circle cx="662.1" cy="147.6" r="2.30"/>
<circle cx="664.3" cy="144.8" r="2.30"/>
<circle cx="666.4" cy="142.0" r="2.30"/>
<circle cx="668.6" cy="139.3" r="2.30"/>
<circle cx="670.8" cy="136.4" r="2.30"/>
<circle cx="673.0" cy="133.5" r="2.30"/>
<circle cx="675.2" cy="130.0" r="2.30"/>
<circle cx="677.3" cy="126.4" r="2.30"/>
<circle cx="679.5" cy="123.8" r="2.30"/>
<circle cx="681.7" cy="121.1" r="2.30"/>
<circle cx="683.9" cy="117.8" r="2.30"/>
<circle cx="686.1" cy="116.1" r="2.30"/>
<circle cx="688.3" cy="113.2" r="2.30"/>
<circle cx="690.4" cy="110.8" r="2.30"/>
<circle cx="692.6" cy="107.9" r="2.30"/>
<circle cx="694.8" cy="105.2" r="2.30"/>
<circle cx="697.0" cy="102.0" r="2.30"/>
<circle cx="699.2" cy="98.9" r="2.30"/>
<circle cx="701.3" cy="95.4" r="2.30"/>
<circle cx="703.5" cy="92.3" r="2.30"/>
<circle cx="705.7" cy="89.1" r="2.30"/>
<circle cx="707.9" cy="85.3" r="2.30"/>
<circle cx="710.1" cy="84.3" r="2.30"/>
<circle cx="712.2" cy="79.5" r="2.30"/>
<circle cx="714.4" cy="77.7" r="2.30"/>
<circle cx="716.6" cy="75.6" r="2.30"/>
<circle cx="718.8" cy="72.3" r="2.30"/>
<circle cx="721.0" cy="69.6" r="2.30"/>
<circle cx="723.2" cy="66.5" r="2.30"/>
<circle cx="725.3" cy="65.7" r="2.30"/>
<circle cx="727.5" cy="62.8" r="2.30"/>
<circle cx="729.7" cy="60.8" r="2.30"/>
<circle cx="731.9" cy="60.1" r="2.30"/>
<circle cx="734.1" cy="58.1" r="2.30"/>
<circle cx="736.2" cy="55.5" r="2.30"/>
<circle cx="738.4" cy="54.0" r="2.30"/>
<circle cx="740.6" cy="52.2" r="2.30"/>
<circle cx="742.8" cy="51.3" r="2.30"/>
<circle cx="745.0" cy="50.3" r="2.30"/>
<circle cx="747.1" cy="49.9" r="2.30"/>
<circle cx="749.3" cy="49.1" r="2.30"/>
<circle cx="751.5" cy="50.4" r="2.30"/>
<circle cx="753.7" cy="50.0" r="2.30"/>
<circle cx="755.9" cy="49.6" r="2.30"/>
<circle cx="758.1" cy="51.3" r="2.30"/>
<circle cx="760.2" cy="50.3" r="2.30"/>
<circle cx="762.4" cy="52.7" r="2.30"/>
<circle cx="764.6" cy="53.8" r="2.30"/>
<circle cx="766.8" cy="55.7" r="2.30"/>
<circle cx="769.0" cy="57.8" r="2.30"/>
<circle cx="771.1" cy="60.3" r="2.30"/>
<circle cx="773.3" cy="63.0" r="2.30"/>
<circle cx="775.5" cy="65.9" r="2.30"/>
<circle cx="777.7" cy="69.2" r="2.30"/>
<circle cx="779.9" cy="72.7" r="2.30"/>
<circle cx="782.0" cy="76.8" r="2.30"/>
<circle cx="784.2" cy="81.2" r="2.30"/>
<circle cx="786.4" cy="86.0" r="2.30"/>
<circle cx="788.6" cy="91.2" r="2.30"/>
<circle cx="790.8" cy="96.7" r="2.30"/>
<circle cx="793.0" cy="102.1" r="2.30"/>
<circle cx="795.1" cy="107.5" r="2.30"/>
<circle cx="797.3" cy="113.1" r="2.30"/>
<circle cx="799.5" cy="118.7" r="2.30"/>
<circle cx="801.7" cy="124.5" r="2.30"/>
<circle cx="803.9" cy="130.6" r="2.30"/>
<circle cx="806.0" cy="136.8" r="2.30"/>
<circle cx="808.2" cy="143.0" r="2.30"/>
<circle cx="810.4" cy="148.9" r="2.30"/>
<circle cx="812.6" cy="154.3" r="2.30"/>
<circle cx="814.8" cy="159.6" r="2.30"/>
<circle cx="816.9" cy="164.6" r="2.30"/>
<circle cx="819.1" cy="169.4" r="2.30"/>
<circle cx="821.3" cy="174.1" r="2.30"/>
<circle cx="823.5" cy="178.9" r="2.30"/>
<circle cx="825.7" cy="183.2" r="2.30"/>
<circle cx="827.8" cy="186.7" r="2.30"/>
<circle cx="830.0" cy="189.8" r="2.30"/>
<circle cx="832.2" cy="192.2" r="2.30"/>
<circle cx="834.4" cy="193.9" r="2.30"/>
<circle cx="836.6" cy="195.3" r="2.30"/>
<circle cx="838.8" cy="196.4" r="2.30"/>
<circle cx="840.9" cy="197.2" r="2.30"/>
<circle cx="843.1" cy="197.7" r="2.30"/>
<circle cx="845.3" cy="198.1" r="2.30"/>
<circle cx="847.5" cy="198.4" r="2.30"/>
<circle cx="849.7" cy="198.6" r="2.30"/>
<circle cx="851.8" cy="198.8" r="2.30"/>
<circle cx="854.0" cy="199.0" r="2.30"/>
<circle cx="856.2" cy="199.0" r="2.30"/>
<circle cx="858.4" cy="199.1" r="2.30"/>
</g>
<g fill="url(#cbb)">
<circle cx="627.2" cy="198.1" r="2.30"/>
<circle cx="630.6" cy="194.3" r="2.30"/>
<circle cx="634.0" cy="190.7" r="2.30"/>
<circle cx="637.5" cy="187.1" r="2.30"/>
<circle cx="640.9" cy="183.7" r="2.30"/>
<circle cx="644.3" cy="180.7" r="2.30"/>
<circle cx="647.7" cy="178.0" r="2.30"/>
<circle cx="651.2" cy="175.7" r="2.30"/>
<circle cx="654.6" cy="173.6" r="2.30"/>
<circle cx="658.0" cy="171.8" r="2.30"/>
<circle cx="661.5" cy="170.4" r="2.30"/>
<circle cx="664.9" cy="169.4" r="2.30"/>
<circle cx="668.3" cy="168.6" r="2.30"/>
<circle cx="671.7" cy="168.1" r="2.30"/>
<circle cx="675.2" cy="168.1" r="2.30"/>
<circle cx="678.6" cy="168.3" r="2.30"/>
<circle cx="682.0" cy="168.5" r="2.30"/>
<circle cx="685.4" cy="168.9" r="2.30"/>
<circle cx="688.9" cy="169.9" r="2.30"/>
<circle cx="692.3" cy="171.2" r="2.30"/>
<circle cx="695.7" cy="172.5" r="2.30"/>
<circle cx="699.2" cy="174.1" r="2.30"/>
<circle cx="702.6" cy="175.8" r="2.30"/>
<circle cx="706.0" cy="177.5" r="2.30"/>
<circle cx="709.4" cy="179.2" r="2.30"/>
<circle cx="712.9" cy="180.9" r="2.30"/>
<circle cx="716.3" cy="182.6" r="2.30"/>
<circle cx="719.7" cy="184.3" r="2.30"/>
<circle cx="723.2" cy="186.0" r="2.30"/>
<circle cx="726.6" cy="187.6" r="2.30"/>
<circle cx="730.0" cy="189.2" r="2.30"/>
<circle cx="733.4" cy="190.8" r="2.30"/>
<circle cx="736.9" cy="192.2" r="2.30"/>
<circle cx="740.3" cy="193.5" r="2.30"/>
<circle cx="743.7" cy="194.6" r="2.30"/>
<circle cx="747.1" cy="195.6" r="2.30"/>
<circle cx="750.6" cy="196.6" r="2.30"/>
<circle cx="754.0" cy="197.5" r="2.30"/>
<circle cx="757.4" cy="198.2" r="2.30"/>
<circle cx="760.9" cy="198.7" r="2.30"/>
<circle cx="764.3" cy="198.9" r="2.30"/>
<circle cx="767.7" cy="199.2" r="2.30"/>
<circle cx="771.1" cy="199.3" r="2.30"/>
<circle cx="774.6" cy="199.4" r="2.30"/>
<circle cx="778.0" cy="199.4" r="2.30"/>
<circle cx="781.4" cy="199.4" r="2.30"/>
<circle cx="784.8" cy="199.4" r="2.30"/>
<circle cx="788.3" cy="199.4" r="2.30"/>
<circle cx="791.7" cy="199.4" r="2.30"/>
<circle cx="795.1" cy="199.4" r="2.30"/>
<circle cx="798.6" cy="199.4" r="2.30"/>
<circle cx="802.0" cy="199.4" r="2.30"/>
<circle cx="805.4" cy="199.4" r="2.30"/>
<circle cx="808.8" cy="199.4" r="2.30"/>
<circle cx="812.3" cy="199.4" r="2.30"/>
<circle cx="815.7" cy="199.4" r="2.30"/>
<circle cx="819.1" cy="199.4" r="2.30"/>
<circle cx="822.6" cy="199.4" r="2.30"/>
<circle cx="826.0" cy="199.4" r="2.30"/>
<circle cx="829.4" cy="199.4" r="2.30"/>
<circle cx="832.8" cy="199.4" r="2.30"/>
<circle cx="836.3" cy="199.4" r="2.30"/>
<circle cx="839.7" cy="199.4" r="2.30"/>
<circle cx="843.1" cy="199.4" r="2.30"/>
<circle cx="846.5" cy="199.4" r="2.30"/>
<circle cx="850.0" cy="199.4" r="2.30"/>
<circle cx="853.4" cy="199.4" r="2.30"/>
<circle cx="856.8" cy="199.4" r="2.30"/>
</g>
</g>
<rect x="626.40" y="12.00" width="233.70" height="188.20" fill="none" stroke="#000" stroke-width="1.30" />
<text x="626.40" y="215.50" font-size="14.70" text-anchor="middle" fill="#000" font-weight="normal" >0.0</text>
<line x1="704.30" y1="200.20" x2="704.30" y2="196.80" stroke="#000" stroke-width="1.40" />
<text x="704.30" y="215.50" font-size="14.70" text-anchor="middle" fill="#000" font-weight="normal" >0.2</text>
<line x1="782.20" y1="200.20" x2="782.20" y2="196.80" stroke="#000" stroke-width="1.40" />
<text x="782.20" y="215.50" font-size="14.70" text-anchor="middle" fill="#000" font-weight="normal" >0.4</text>
<text x="860.10" y="215.50" font-size="14.70" text-anchor="middle" fill="#000" font-weight="normal" >0.6</text>
<line x1="665.35" y1="200.20" x2="665.35" y2="198.40" stroke="#000" stroke-width="1.40" />
<line x1="743.25" y1="200.20" x2="743.25" y2="198.40" stroke="#000" stroke-width="1.40" />
<line x1="821.15" y1="200.20" x2="821.15" y2="198.40" stroke="#000" stroke-width="1.40" />
<text x="622.20" y="203.80" font-size="14.70" text-anchor="end" fill="#000" font-weight="normal" >0</text>
<line x1="626.40" y1="127.30" x2="629.80" y2="127.30" stroke="#000" stroke-width="1.40" />
<text x="622.20" y="131.70" font-size="14.70" text-anchor="end" fill="#000" font-weight="normal" >5</text>
<line x1="626.40" y1="55.20" x2="629.80" y2="55.20" stroke="#000" stroke-width="1.40" />
<text x="622.20" y="59.60" font-size="14.70" text-anchor="end" fill="#000" font-weight="normal" >10</text>
<line x1="626.40" y1="163.35" x2="628.20" y2="163.35" stroke="#000" stroke-width="1.40" />
<line x1="626.40" y1="91.25" x2="628.20" y2="91.25" stroke="#000" stroke-width="1.40" />
<line x1="626.40" y1="19.15" x2="628.20" y2="19.15" stroke="#000" stroke-width="1.40" />
<text x="604.10" y="106.50" font-size="14.50" text-anchor="middle" fill="#000" font-weight="normal" transform="rotate(-90 604.10 106.50)" >ABPE (%)</text>
<text x="744.00" y="229.60" font-size="14.50" text-anchor="middle" fill="#000" font-weight="normal" >Potential (V<tspan dy="2.90" font-size="9.57">RHE</tspan><tspan dy="-2.90">)</tspan></text>
<text x="599.20" y="17.30" font-size="18.60" text-anchor="start" fill="#000" font-weight="normal" >c</text>
<circle cx="645.80" cy="24.20" r="2.00" fill="url(#cbb)" stroke="none" stroke-width="1.00" />
<circle cx="645.80" cy="39.70" r="2.00" fill="url(#cbr)" stroke="none" stroke-width="1.00" />
<text x="663.40" y="28.30" font-size="12.80" text-anchor="start" fill="#000" font-weight="normal" >Au/Faceted-GaN/Si</text>
<text x="663.40" y="43.30" font-size="12.80" text-anchor="start" fill="#000" font-weight="normal" >Au/GaN/Si</text>
</g>
<g id="panel-d">
<clipPath id="clipd"><rect x="51.0" y="246.3" width="527.7" height="188.1"/></clipPath>
<g clip-path="url(#clipd)">
<polygon points="50.2,361.7 50.4,360.2 51.1,361.7 51.1,359.7 51.9,362.1 51.8,359.1 52.4,359.8 52.6,359.0 53.3,360.7 53.5,359.6 54.2,361.2 54.3,359.4 54.8,360.1 55.1,359.1 55.7,360.2 55.9,359.4 56.6,361.0 56.6,358.7 57.2,359.9 57.4,358.3 57.9,359.2 58.1,358.0 58.7,359.1 58.9,357.8 59.6,359.7 59.8,358.1 60.6,360.7 60.7,358.5 61.3,360.0 61.4,357.9 62.3,360.8 62.1,357.4 62.7,358.8 62.8,356.7 63.5,358.6 63.6,356.6 64.1,357.6 64.3,356.0 65.3,359.3 65.1,356.1 65.7,357.1 66.0,356.5 66.5,357.2 66.7,356.1 67.3,357.0 67.5,355.8 68.0,356.5 68.3,355.6 68.9,357.0 69.3,356.7 70.0,358.5 70.1,356.9 70.6,357.5 70.9,356.9 71.5,357.8 71.6,356.2 72.7,359.2 72.4,356.2 72.9,356.5 73.2,356.0 73.9,357.2 73.9,355.5 75.0,358.7 74.7,355.6 75.4,356.5 75.3,354.6 76.2,356.4 76.4,355.7 77.0,356.3 77.2,355.7 78.0,357.2 78.1,355.7 78.8,357.3 78.9,355.9 79.3,355.8 79.6,355.1 80.7,358.1 80.3,354.8 80.9,355.5 81.0,354.4 81.5,354.6 81.8,354.1 82.4,354.8 82.6,354.0 83.3,355.1 83.2,353.1 83.9,354.4 83.8,352.1 84.6,354.0 84.6,352.1 85.6,354.7 85.3,351.7 85.9,352.4 86.3,352.3 87.0,353.7 87.1,352.4 88.0,354.4 87.9,352.4 89.3,355.9 88.9,352.8 89.6,354.1 89.7,352.7 90.2,353.2 90.4,352.3 91.2,353.8 91.1,351.8 92.1,354.1 91.9,351.6 92.6,352.8 92.6,351.3 93.4,352.5 93.3,350.8 94.2,352.4 94.2,351.1 95.0,352.6 95.0,351.0 95.6,351.6 95.8,350.8 96.3,350.9 96.5,350.3 97.3,351.7 97.2,349.7 97.8,350.6 98.0,349.6 98.5,350.1 98.7,349.3 100.7,355.3 99.3,348.6 100.2,350.3 100.4,349.3 101.3,351.1 101.1,349.0 101.9,350.3 102.0,349.0 103.1,351.7 102.6,348.5 103.2,349.0 103.2,347.8 104.7,350.3 104.1,347.9 104.5,347.9 104.8,347.7 106.3,350.0 105.6,347.4 106.8,349.2 106.6,347.8 107.1,347.8 107.3,347.3 108.0,347.9 107.9,346.8 108.3,346.7 108.6,346.3 109.5,347.4 109.2,345.6 109.9,346.2 110.0,345.6 112.6,350.4 110.6,345.0 111.3,345.5 111.4,344.7 112.2,345.6 112.4,345.0 113.0,345.3 113.0,344.4 113.6,344.7 113.8,344.1 114.8,345.5 114.4,343.6 115.2,344.5 115.0,343.1 116.7,345.8 115.8,342.7 116.4,343.1 115.6,341.9 116.8,342.3 116.6,341.6 118.3,342.6 117.5,341.4 118.6,341.7 117.8,340.6 120.0,341.9 118.4,340.1 119.0,340.0 118.8,339.3 121.1,340.7 119.1,338.5 120.0,338.8 118.8,337.3 119.7,337.5 119.9,337.1 121.7,338.1 120.7,336.8 124.0,339.0 121.6,336.4 123.0,337.1 122.1,335.8 124.0,336.9 122.8,335.4 124.7,336.4 123.0,334.5 124.7,335.3 123.9,334.2 125.3,334.7 124.5,333.6 125.1,333.5 125.0,333.0 127.5,334.3 125.8,332.6 126.5,332.6 126.3,331.9 127.4,332.2 125.5,330.4 127.0,331.0 126.9,330.4 127.6,330.4 127.3,329.7 130.0,331.2 127.4,328.8 128.5,329.1 127.7,328.0 129.7,329.0 128.7,327.8 128.7,327.3 128.7,326.8 130.0,327.3 129.3,326.2 129.8,326.1 129.7,325.5 130.7,325.8 130.2,324.9 131.4,325.3 131.1,324.6 133.6,325.5 131.5,323.8 133.0,324.2 131.8,323.1 133.1,323.3 132.5,322.5 133.7,322.8 132.6,321.7 135.1,322.6 133.6,321.3 135.3,321.8 134.5,320.9 136.3,321.5 135.3,320.5 135.7,320.2 135.0,319.4 135.1,319.0 134.8,318.4 135.4,318.2 134.7,317.4 134.8,316.9 134.5,316.3 135.8,316.6 135.1,315.8 136.2,315.8 135.7,315.2 136.7,315.1 136.2,314.5 138.7,314.8 136.9,313.9 137.7,313.7 137.0,313.1 139.7,313.4 136.7,312.1 138.4,312.2 136.9,311.4 138.1,311.3 137.1,310.6 138.8,310.7 137.4,309.9 138.0,309.6 137.4,309.0 138.5,308.9 137.6,308.2 138.6,308.1 137.8,307.5 139.0,307.4 137.2,306.5 138.6,306.4 138.1,305.9 140.6,306.2 138.7,305.2 141.4,305.6 139.6,304.7 140.8,304.6 139.7,303.8 141.7,304.0 139.2,302.9 140.4,302.8 138.7,301.9 140.5,302.0 138.7,301.1 140.2,301.1 139.0,300.3 140.1,300.2 139.0,299.5 141.6,299.8 139.8,298.9 141.9,299.1 139.9,298.1 141.6,298.1 140.1,297.3 142.0,297.4 140.7,296.6 141.8,296.5 140.9,295.9 142.3,295.8 141.2,295.1 142.7,295.2 141.3,294.3 142.3,294.2 141.3,293.5 141.4,293.1 140.9,292.5 144.9,293.3 141.6,291.9 142.6,291.8 141.7,291.1 143.0,291.1 142.2,290.4 143.0,290.2 142.9,289.8 143.7,289.6 143.0,289.0 143.5,288.7 142.9,288.1 144.1,288.0 143.7,287.5 145.5,287.6 143.7,286.7 144.2,286.4 143.9,285.9 144.5,285.7 143.6,285.0 146.8,285.5 143.5,284.1 145.1,284.2 143.9,283.4 145.9,283.6 144.3,282.7 146.5,282.9 144.5,281.9 145.8,281.9 145.0,281.2 147.1,281.4 144.8,280.3 147.3,280.7 145.1,279.6 146.4,279.6 145.3,278.8 147.0,278.9 145.9,278.1 146.3,277.9 146.3,277.4 147.9,277.5 146.6,276.7 148.4,276.8 146.3,275.8 150.9,276.7 146.5,275.0 148.0,275.0 147.6,274.5 148.5,274.3 147.7,273.7 150.6,274.1 148.0,272.9 149.0,272.8 148.4,272.2 149.2,272.0 148.5,271.4 149.4,271.2 148.9,270.7 150.1,270.6 148.6,269.8 150.3,269.8 148.0,268.8 150.1,268.9 148.0,268.0 148.4,267.7 147.9,267.1 148.5,266.9 148.0,266.4 148.7,266.1 148.6,265.7 149.8,265.5 148.7,264.9 151.1,265.1 148.8,264.1 150.3,264.0 149.4,263.4 150.5,263.3 150.4,262.8 152.0,262.8 150.4,262.0 152.7,262.1 151.3,261.4 152.9,261.4 151.6,260.6 152.8,260.5 150.9,259.7 153.4,259.9 151.5,259.0 152.7,258.9 152.2,258.3 153.2,258.2 151.5,257.3 153.1,257.3 152.0,256.6 153.8,256.7 152.4,255.9 155.0,256.0 152.7,255.1 154.2,255.0 152.4,254.3 154.7,254.3 153.0,253.6 153.1,253.2 152.5,252.6 153.9,252.5 152.2,251.8 153.2,251.6 152.3,251.0 155.3,251.2 152.3,250.2 153.6,250.0 153.5,249.6 154.7,249.4 152.7,248.6 157.4,249.1 154.4,248.1 154.4,247.7 153.7,247.2 155.7,247.2 154.0,246.4 156.5,246.5 154.2,245.6 155.4,245.5 155.1,245.0 155.1,244.6 155.4,244.2 157.5,244.2 155.2,243.4 155.8,243.1 155.3,242.6 156.1,242.3 155.2,241.8 156.2,241.5 155.5,241.0 165.2,242.4 155.6,240.2 157.0,240.1 155.6,239.4 158.0,239.4 155.0,238.5 155.9,238.2 155.3,237.7 155.7,237.4 155.4,236.9 155.9,236.6 155.6,236.1 170.2,235.5 172.5,236.4 171.4,236.6 172.1,237.1 169.5,237.0 172.0,237.9 170.9,238.1 171.8,238.7 170.8,238.9 171.0,239.3 169.8,239.5 171.8,240.3 170.8,240.5 171.2,241.0 171.0,241.4 172.7,242.1 170.1,242.0 172.3,242.8 171.5,243.1 172.1,243.6 170.9,243.8 172.1,244.4 169.6,244.4 171.2,245.1 170.3,245.3 172.2,246.1 169.7,246.0 170.4,246.5 170.1,246.9 170.2,247.3 169.8,247.6 170.0,248.1 167.3,247.9 169.6,248.8 167.4,248.7 169.7,249.7 169.8,250.1 170.2,250.6 168.8,250.7 170.1,251.4 168.2,251.4 169.7,252.1 169.3,252.4 171.5,253.6 167.9,252.5 169.3,253.7 165.0,251.7 168.8,254.3 166.4,253.4 168.9,255.3 167.7,255.1 168.9,256.2 165.8,254.9 167.8,256.5 167.1,256.6 167.8,257.4 166.7,257.3 167.1,257.9 165.2,257.3 166.7,258.7 163.3,257.2 166.4,259.4 164.7,258.9 166.4,260.3 164.6,259.7 165.7,260.8 164.9,260.8 165.6,261.9 162.2,259.8 164.9,262.3 161.7,260.4 164.2,262.8 162.5,262.0 163.9,263.6 162.4,263.0 163.4,264.2 160.8,262.8 162.8,264.8 161.3,264.1 161.6,264.8 158.9,263.3 160.6,265.1 159.7,264.9 160.7,266.2 159.6,265.9 159.9,266.5 157.9,265.6 159.0,266.9 158.1,266.7 159.4,268.2 158.0,267.9 159.4,269.1 156.1,268.3 158.5,269.6 157.5,269.6 158.4,270.4 157.3,270.4 158.6,271.3 157.6,271.4 157.9,271.9 154.4,271.0 157.6,272.7 156.9,272.8 157.6,273.5 155.6,273.2 157.0,274.2 155.8,274.1 156.8,275.0 154.7,274.6 156.4,275.7 155.9,275.9 156.7,276.6 153.4,275.8 156.6,277.4 155.5,277.4 156.3,278.2 155.9,278.5 156.1,279.0 155.5,279.1 156.2,279.8 153.9,279.4 155.5,280.4 154.4,280.5 155.0,281.1 154.2,281.2 154.2,281.7 153.5,281.9 154.1,282.5 152.4,282.5 153.8,283.2 151.5,283.1 153.5,284.0 151.1,283.8 153.9,284.9 153.2,285.1 153.3,285.6 152.5,285.8 153.5,286.5 152.8,286.7 153.8,287.3 150.4,286.9 153.0,288.0 150.0,287.6 152.6,288.7 152.1,289.0 152.1,289.4 151.7,289.7 151.6,290.1 149.7,290.0 151.6,290.9 151.1,291.2 151.9,291.8 150.8,292.0 152.1,292.7 151.6,293.0 152.6,293.7 151.6,293.8 152.5,294.5 151.3,294.6 153.1,295.4 150.4,295.2 152.2,296.0 149.7,295.8 151.8,296.7 149.7,296.6 151.0,297.4 150.6,297.7 150.9,298.2 149.9,298.3 149.9,298.7 148.8,298.9 149.3,299.4 148.8,299.7 148.9,300.1 148.8,300.5 149.2,301.0 148.9,301.4 149.0,301.8 148.7,302.2 149.3,302.7 148.3,302.9 148.8,303.4 148.6,303.8 149.3,304.4 148.3,304.5 148.5,305.0 146.0,304.8 149.2,306.0 147.5,306.0 148.4,306.6 147.1,306.7 148.9,307.6 145.5,307.1 148.1,308.2 148.1,308.6 148.0,309.0 144.4,308.5 147.6,309.7 146.1,309.8 146.9,310.4 146.5,310.7 146.9,311.2 146.0,311.4 146.6,311.9 144.1,311.7 146.6,312.7 145.6,312.9 146.3,313.5 143.9,313.3 146.3,314.3 145.3,314.5 146.4,315.2 145.0,315.3 146.3,316.0 145.5,316.2 146.6,316.9 145.5,317.0 146.1,317.6 144.1,317.5 145.3,318.2 141.9,317.8 144.9,318.9 144.0,319.1 144.5,319.6 143.2,319.7 143.9,320.3 143.2,320.5 143.3,320.9 141.4,320.8 143.6,321.9 143.4,322.2 143.6,322.7 141.9,322.6 144.2,323.7 142.9,323.7 143.9,324.5 142.5,324.5 142.7,324.9 141.2,324.9 142.4,325.7 138.7,325.0 141.9,326.4 141.1,326.6 141.7,327.1 140.8,327.3 141.3,327.9 139.5,327.7 141.2,328.7 139.4,328.5 141.1,329.5 136.8,328.6 140.6,330.1 140.2,330.4 140.0,330.8 139.7,331.1 140.2,331.7 137.6,331.4 140.0,332.5 137.3,332.1 140.0,333.3 138.5,333.3 140.4,334.3 138.5,334.1 140.2,335.0 138.6,335.0 140.3,335.9 139.8,336.2 140.2,336.7 137.7,336.4 139.5,337.3 136.8,336.9 139.6,338.2 138.8,338.4 139.3,339.0 137.9,338.9 138.9,339.7 136.8,339.4 138.6,340.4 137.1,340.4 138.5,341.2 136.5,341.0 138.0,341.9 137.4,342.1 138.3,342.8 137.3,343.0 137.4,343.4 136.2,343.4 137.3,344.2 132.5,343.1 137.5,345.1 135.9,345.0 137.0,345.8 136.5,346.0 136.7,346.5 134.5,346.2 136.7,347.4 134.5,347.1 136.6,348.2 135.9,348.4 136.1,348.8 131.2,347.7 136.0,349.7 133.9,349.4 135.6,350.4 134.7,350.4 135.0,351.0 133.2,350.5 135.2,352.0 134.7,352.2 134.6,352.6 132.2,351.8 133.6,353.0 133.1,353.2 133.0,353.6 131.1,353.1 133.0,354.4 129.1,352.9 131.4,354.6 130.8,354.7 131.8,355.7 132.0,356.2 132.1,356.7 131.7,356.9 131.7,357.4 130.8,357.4 131.8,358.4 130.2,358.0 131.7,359.2 130.5,359.0 130.9,359.7 130.3,359.8 131.0,360.7 130.1,360.6 130.1,361.1 127.4,359.6 129.1,361.3 128.6,361.5 129.2,362.5 127.9,361.9 128.3,362.8 126.4,361.9 127.9,363.4 126.7,363.0 128.1,364.6 126.3,363.7 127.2,364.9 125.7,364.3 126.4,365.3 125.9,365.5 126.4,366.3 124.9,365.7 125.8,366.8 122.7,365.1 125.6,367.7 124.6,367.5 125.1,368.4 124.5,368.4 124.2,369.1 123.8,368.0 123.1,369.2 122.9,368.5 122.4,368.9 122.5,366.6 121.6,368.7 121.3,368.2 120.8,368.5 120.7,367.1 120.2,367.7 120.0,366.3 119.4,366.9 118.5,365.6 118.4,366.9 117.6,365.1 117.6,366.9 116.8,365.3 117.1,368.0 116.5,367.5 116.4,368.7 115.5,366.5 115.7,369.3 115.4,369.5 115.1,369.9 114.1,367.7 114.2,369.9 113.4,368.4 113.4,369.9 111.1,362.0 112.5,369.7 111.9,368.8 111.5,368.9 111.0,368.3 110.8,369.3 110.0,367.9 110.0,369.6 108.8,366.3 109.2,369.4 107.7,365.3 108.4,369.8 107.9,369.5 108.0,371.2 106.2,365.9 107.0,370.8 106.3,369.4 106.6,372.4 105.6,370.0 105.7,372.0 104.9,370.3 104.9,372.1 104.3,371.5 104.0,372.0 103.3,370.6 103.2,372.1 102.7,371.6 102.4,372.1 101.8,371.2 101.7,372.7 101.0,371.5 100.9,372.7 100.0,370.6 100.1,372.6 99.0,370.2 99.2,372.6 98.7,372.1 98.4,372.6 97.9,372.2 97.7,372.9 96.7,370.6 96.8,372.8 96.4,372.7 96.1,373.1 95.6,373.1 95.4,373.9 94.5,372.0 94.6,373.8 94.1,373.5 93.9,374.3 93.0,372.5 93.1,374.4 92.0,371.6 92.2,374.1 91.6,373.4 91.5,374.6 90.7,373.0 90.7,374.7 90.0,373.6 89.8,374.6 89.2,373.7 89.2,375.3 88.3,373.4 88.3,375.2 87.8,374.5 87.7,376.0 87.2,375.4 86.8,375.6 86.2,374.6 86.0,375.7 85.5,375.2 85.3,376.2 84.8,375.6 84.5,376.2 84.1,376.6 83.8,377.1 83.1,375.2 83.1,377.7 82.4,376.2 82.2,377.1 81.6,376.3 81.5,377.9 80.9,376.9 80.5,376.9 79.9,375.3 79.6,376.3 79.1,375.7 78.8,376.2 78.3,375.7 78.0,376.3 77.5,375.7 77.3,376.7 76.7,375.5 76.5,376.9 76.1,376.8 75.7,377.2 75.0,375.0 75.0,377.6 74.4,376.6 74.1,377.1 73.6,376.3 73.4,377.6 72.7,376.0 72.6,377.9 71.8,375.3 72.1,379.8 71.4,378.3 71.1,378.8 70.6,378.3 70.2,378.4 69.5,376.3 69.4,378.2 68.9,377.5 68.7,378.8 67.9,376.2 67.9,378.8 67.0,375.2 67.0,378.7 66.5,377.8 66.2,378.8 65.6,377.1 65.4,378.5 64.9,377.6 64.7,379.0 64.0,377.4 63.9,379.1 62.7,373.6 63.2,379.8 62.7,379.2 62.5,380.6 61.9,379.7 61.6,379.9 61.0,378.5 60.7,379.6 59.9,376.9 59.8,379.2 59.3,378.2 59.1,379.6 58.5,377.9 58.3,379.5 57.5,377.1 57.5,380.0 57.0,379.0 56.8,380.3 56.2,378.8 55.9,380.0 55.2,377.8 55.2,380.5 54.4,378.1 54.4,380.7 53.7,378.3 53.7,381.2 53.0,379.5 52.9,381.6 52.3,380.0 52.1,381.4 51.6,380.5 51.2,381.2 50.8,380.8 50.4,381.3 49.9,380.1" fill="#2a6ff0" stroke="none" stroke-width="1.00" />
<polygon points="50.0,386.1 50.3,385.9 51.2,391.8 51.0,385.8 51.5,387.1 51.7,385.6 52.1,386.0 52.4,385.3 52.8,385.9 53.1,385.5 53.6,386.9 53.8,385.5 54.3,387.1 54.5,385.5 54.9,386.0 55.2,385.2 55.6,385.7 55.9,385.4 56.3,386.1 56.6,385.3 57.1,386.7 57.3,385.4 57.7,386.0 58.0,385.0 58.5,386.6 58.7,385.1 59.1,386.0 59.4,384.9 59.8,385.5 60.1,384.6 60.5,385.4 60.8,384.6 61.2,385.2 61.5,384.7 61.9,386.1 62.2,384.9 62.6,385.0 62.9,384.8 63.3,385.2 63.6,384.8 64.2,387.8 64.3,384.8 64.7,385.3 65.0,384.3 65.4,385.1 65.7,384.6 66.1,385.1 66.4,384.4 66.9,386.9 67.1,384.8 67.5,385.3 67.8,384.6 68.2,385.2 68.5,384.1 68.9,385.7 69.2,384.1 69.7,386.1 69.9,384.2 70.2,384.5 70.6,384.1 70.9,385.0 71.3,384.3 71.6,385.0 72.0,384.1 72.3,384.5 72.7,383.6 73.1,385.4 73.4,383.9 73.8,385.1 74.1,383.4 74.4,384.6 74.8,384.4 75.1,384.7 75.5,384.4 75.9,385.4 76.2,384.2 76.6,385.5 76.9,384.5 77.3,385.3 77.6,383.8 78.0,385.8 78.3,384.0 78.7,385.9 79.0,384.1 79.3,384.8 79.7,384.3 80.0,384.7 80.4,384.4 80.7,384.9 81.1,384.4 81.4,384.5 81.8,383.9 82.2,385.7 82.5,384.4 82.8,384.8 83.2,384.2 83.5,384.4 83.9,384.2 84.3,385.2 84.6,384.0 85.0,386.6 85.3,383.9 85.6,384.7 86.0,383.5 86.4,385.2 86.7,384.0 87.0,384.4 87.4,384.0 87.7,384.5 88.1,384.2 88.5,385.9 88.8,384.1 89.1,384.4 89.5,384.0 89.8,384.3 90.2,383.7 90.5,384.2 90.9,383.8 91.2,384.8 91.6,383.7 91.9,384.7 92.3,383.9 92.7,384.9 93.0,384.1 93.4,385.8 93.7,384.0 94.1,385.1 94.4,384.0 94.8,385.4 95.1,383.8 95.4,384.7 95.8,383.4 96.1,384.4 96.5,383.3 96.8,383.9 97.2,383.2 97.5,384.8 97.9,383.4 98.3,385.3 98.6,383.2 98.9,383.6 99.3,382.9 99.7,385.6 100.0,383.3 100.3,384.0 100.7,383.3 101.0,383.3 101.4,383.2 101.7,385.5 102.1,383.4 102.4,385.3 102.8,383.5 103.1,383.7 103.5,383.7 103.8,384.3 104.2,384.0 104.5,384.3 104.9,384.1 105.2,384.8 105.6,383.8 105.9,384.3 106.3,383.9 106.6,385.0 107.0,383.9 107.3,384.4 107.7,383.7 108.0,384.1 108.4,383.5 108.7,383.9 109.1,383.3 109.4,384.4 109.8,383.3 110.1,384.4 110.5,383.7 110.8,383.8 111.2,383.8 111.5,384.0 111.9,383.6 112.2,384.4 112.6,383.7 112.9,385.0 113.3,383.5 113.6,384.2 114.0,383.7 114.3,384.7 114.7,383.7 115.0,384.1 115.4,383.6 115.7,386.5 116.1,383.3 116.4,383.8 116.8,383.9 117.1,384.7 117.5,383.7 117.8,385.0 118.2,383.7 118.5,384.4 118.9,383.6 119.2,384.1 119.6,383.6 119.9,384.9 120.3,383.1 120.6,385.9 121.0,383.2 121.3,384.6 121.7,383.6 122.0,384.7 122.4,383.5 122.7,384.2 123.1,383.7 123.4,384.0 123.8,383.7 124.1,384.2 124.5,383.6 124.8,384.9 125.2,383.8 125.5,384.1 125.9,383.5 126.2,384.4 126.6,383.8 126.9,385.1 127.3,383.3 127.6,384.0 128.0,383.9 128.3,383.9 128.7,383.7 129.0,383.9 129.4,383.6 129.7,383.8 130.1,383.8 130.4,384.1 130.8,383.9 131.1,384.1 131.5,383.9 131.8,386.0 132.2,383.3 132.5,385.8 132.9,383.8 133.2,385.2 133.6,383.8 133.9,384.8 134.3,383.6 134.6,384.7 135.0,383.5 135.3,384.0 135.7,383.4 136.0,384.1 136.4,383.7 136.7,384.7 137.1,383.6 137.4,384.1 137.8,383.6 138.1,384.6 138.5,383.6 138.8,384.1 139.2,383.7 139.5,384.5 139.9,384.0 140.2,384.2 140.6,383.8 140.9,385.0 141.3,383.8 141.6,384.0 142.0,383.6 142.3,384.9 142.7,383.8 143.0,383.8 143.4,383.9 143.7,384.8 144.1,383.8 144.4,385.8 144.8,384.0 145.1,385.5 145.5,383.8 145.8,384.3 146.2,383.7 146.5,384.0 146.9,383.4 147.2,383.6 147.6,383.2 147.9,383.7 148.3,383.2 148.6,384.8 149.0,383.3 149.3,383.6 149.7,383.3 150.0,385.4 150.4,383.5 150.7,383.9 151.1,383.7 151.4,384.2 151.8,383.8 152.1,384.3 152.5,384.1 152.8,384.9 153.2,384.0 153.5,385.1 153.9,383.7 154.2,384.5 154.6,383.8 154.9,384.3 155.3,383.7 155.6,384.8 156.0,383.6 156.3,383.8 156.7,383.4 157.0,384.0 157.4,383.6 157.7,385.2 158.1,383.5 158.4,383.9 158.8,383.1 159.1,384.9 159.5,383.6 159.8,384.3 160.2,383.8 160.5,384.6 160.9,383.6 161.2,384.3 161.6,383.6 161.9,385.7 162.3,383.6 162.6,383.7 163.0,383.7 163.3,383.9 163.7,383.7 164.0,384.4 164.4,383.6 164.7,384.0 165.1,383.5 165.4,383.8 165.8,383.6 166.1,384.4 166.5,382.8 166.8,384.2 167.2,383.4 167.5,384.5 167.9,383.3 168.2,384.4 168.6,383.1 168.9,385.0 169.3,383.2 169.6,384.4 170.0,383.6 170.3,384.7 170.7,383.4 171.0,385.8 171.4,384.0 171.7,385.0 172.1,383.8 172.4,384.3 172.8,383.9 173.1,384.5 173.5,383.4 173.8,384.4 174.2,383.1 174.5,385.1 174.9,383.4 175.2,385.3 175.6,383.5 175.9,384.0 176.3,383.6 176.6,385.5 177.0,383.3 177.3,390.2 177.7,383.4 178.0,385.5 178.4,383.4 178.7,383.8 179.1,383.4 179.4,384.3 179.8,383.5 180.1,389.2 180.5,383.5 180.8,384.5 181.2,383.7 181.5,384.1 181.9,383.9 182.2,384.1 182.6,383.5 182.9,383.8 183.3,383.2 183.6,384.8 184.0,383.2 184.3,383.8 184.7,383.2 185.0,383.7 185.4,383.4 185.7,383.9 186.1,383.5 186.4,385.4 186.8,383.7 187.1,384.2 187.5,383.4 187.8,384.7 188.2,383.6 188.5,383.9 188.9,383.9 189.2,384.0 189.6,383.6 189.9,384.1 190.3,383.8 190.6,384.5 191.0,383.8 191.3,384.4 191.7,383.6 192.0,384.7 192.4,383.4 192.7,384.1 193.1,383.7 193.4,384.5 193.8,383.6 194.1,384.5 194.5,383.3 194.8,384.4 195.2,383.4 195.5,384.0 195.9,383.2 196.2,383.7 196.6,383.2 196.9,384.2 197.3,383.1 197.6,383.7 198.0,382.5 198.3,384.6 198.7,382.9 199.0,384.1 199.4,383.3 199.7,383.9 200.1,383.5 200.4,384.1 200.8,383.6 201.1,384.7 201.5,383.8 201.8,385.2 202.2,383.9 202.5,384.2 202.9,383.9 203.2,384.4 203.6,383.8 203.9,384.2 204.3,383.8 204.6,384.1 205.0,383.9 205.3,384.8 205.7,383.9 206.0,386.5 206.4,383.5 206.7,384.8 207.1,383.2 207.4,383.6 207.8,383.4 208.1,386.1 208.5,383.3 208.8,384.3 209.2,383.3 209.5,385.1 209.9,383.5 210.2,384.6 210.6,383.1 210.9,383.7 211.3,383.5 211.6,385.3 212.0,383.5 212.3,384.9 212.7,383.4 213.0,384.7 213.4,383.5 213.7,384.0 214.1,383.8 214.4,384.3 214.8,383.7 215.1,384.9 215.5,383.6 215.8,385.4 216.2,383.6 216.5,385.1 216.9,383.7 217.2,384.0 217.6,384.0 217.9,385.3 218.3,383.4 218.6,384.2 219.0,383.7 219.3,384.1 219.7,383.8 220.0,384.2 220.4,383.6 220.7,384.3 221.1,383.7 221.4,386.5 221.8,383.5 222.1,385.6 222.5,383.8 222.8,385.2 223.2,382.9 223.5,384.3 223.9,383.4 224.2,385.5 224.6,383.8 224.9,384.8 225.3,383.5 225.6,385.5 226.0,383.6 226.3,384.0 226.7,383.4 227.0,383.9 227.4,383.4 227.7,384.7 228.1,383.0 228.4,385.1 228.8,383.3 229.1,387.0 229.5,383.3 229.8,383.4 230.2,383.2 230.5,383.3 230.9,383.3 231.2,384.3 231.6,383.4 231.9,387.6 232.3,383.3 232.6,384.2 233.0,383.7 233.3,385.4 233.7,383.8 234.0,384.6 234.4,383.9 234.7,385.0 235.1,383.6 235.4,383.9 235.8,383.4 236.1,384.2 236.5,383.7 236.8,385.3 237.2,383.1 237.5,383.6 237.9,383.4 238.2,385.1 238.6,383.6 238.9,383.6 239.3,383.5 239.6,383.9 240.0,383.4 240.3,386.8 240.7,383.5 241.0,384.7 241.4,383.5 241.7,384.5 242.1,383.3 242.4,384.2 242.8,383.5 243.1,384.4 243.5,383.4 243.8,384.1 244.2,383.4 244.5,384.0 244.9,383.5 245.2,385.4 245.6,383.4 245.9,385.3 246.3,383.5 246.6,384.2 247.0,384.0 247.3,384.6 247.7,383.8 248.0,386.0 248.4,383.0 248.7,384.7 249.1,383.7 249.4,384.3 249.8,383.3 250.1,384.3 250.5,384.0 250.8,384.2 251.2,383.9 251.5,385.2 251.9,383.8 252.2,384.6 252.6,383.9 252.9,385.4 253.3,383.9 253.6,385.1 254.0,384.1 254.3,384.5 254.7,384.1 255.0,384.5 255.4,384.2 255.7,384.8 256.1,384.0 256.4,384.9 256.8,383.8 257.1,384.5 257.5,383.8 257.8,386.5 258.2,384.0 258.5,384.3 258.9,383.7 259.2,385.8 259.6,383.4 259.9,383.8 260.3,383.4 260.6,383.6 261.0,383.4 261.3,384.6 261.7,383.5 262.0,383.8 262.4,384.0 262.7,384.3 263.1,384.0 263.4,385.7 263.8,383.9 264.1,384.1 264.5,384.0 264.8,386.0 265.2,383.8 265.5,384.2 265.9,383.9 266.2,384.2 266.6,383.6 266.9,384.1 267.3,383.9 267.6,384.9 268.0,383.8 268.3,385.4 268.7,383.7 269.0,384.7 269.4,383.6 269.7,385.4 270.1,383.8 270.4,384.5 270.8,383.8 271.1,386.7 271.5,383.7 271.8,384.7 272.2,383.7 272.5,385.3 272.9,383.6 273.2,386.1 273.6,383.3 273.9,384.0 274.3,383.6 274.6,384.6 275.0,383.7 275.3,385.0 275.7,383.6 276.0,384.2 276.4,383.8 276.7,384.0 277.1,383.8 277.4,384.2 277.8,383.6 278.1,384.8 278.5,383.9 278.8,385.1 279.2,384.0 279.5,385.3 279.9,383.7 280.2,385.9 280.6,383.7 280.9,384.3 281.3,383.5 281.6,384.1 282.0,383.2 282.3,383.8 282.7,383.4 283.0,383.8 283.4,383.2 283.7,384.4 284.1,383.5 284.4,384.0 284.8,383.0 285.1,384.8 285.5,383.2 285.8,384.0 286.2,383.5 286.5,384.1 286.9,383.1 287.2,383.9 287.6,383.2 287.9,383.7 288.3,383.1 288.6,384.2 289.0,383.6 289.3,384.9 289.7,383.3 290.0,384.5 290.4,383.5 290.7,385.2 291.1,383.3 291.4,383.8 291.8,383.3 292.1,385.4 292.5,383.5 292.8,384.1 293.2,383.5 293.5,384.6 293.9,383.2 294.2,384.7 294.6,383.6 294.9,385.9 295.3,383.4 295.6,384.8 296.0,383.8 296.3,384.4 296.7,383.7 297.0,384.3 297.4,383.4 297.7,384.5 298.1,384.0 298.4,384.3 298.8,384.0 299.1,384.2 299.5,383.9 299.8,384.2 300.2,384.0 300.5,384.0 300.9,383.6 301.2,385.2 301.6,383.4 301.9,384.6 302.3,383.3 302.6,384.9 303.0,383.5 303.3,383.8 303.7,383.3 304.0,384.8 304.4,382.0 304.7,385.1 305.1,383.2 305.4,384.1 305.8,383.5 306.1,383.8 306.5,383.3 306.9,387.6 307.2,383.5 307.5,384.0 307.9,383.4 308.2,384.5 308.6,383.6 308.9,383.5 309.3,383.3 309.6,383.7 310.0,383.5 310.3,384.2 310.7,383.2 311.0,384.2 311.4,383.4 311.7,384.4 312.1,383.7 312.5,388.1 312.8,383.6 313.1,384.4 313.5,383.5 313.8,383.7 314.2,383.4 314.6,386.3 314.9,383.6 315.2,385.4 315.6,383.7 315.9,385.2 316.3,383.6 316.6,384.8 317.0,383.7 317.3,384.9 317.7,383.6 318.1,385.8 318.4,383.4 318.7,383.9 319.1,383.5 319.4,384.6 319.8,383.3 320.1,384.5 320.5,383.2 320.8,384.4 321.2,383.5 321.6,385.9 321.9,383.2 322.2,384.3 322.6,382.8 322.9,385.2 323.3,383.4 323.6,384.9 324.0,383.1 324.3,383.5 324.7,383.3 325.0,383.6 325.4,383.3 325.7,385.3 326.1,383.2 326.4,384.6 326.8,383.3 327.1,383.7 327.5,383.3 327.8,384.5 328.2,383.5 328.5,384.1 328.9,383.4 329.2,384.4 329.6,383.4 329.9,383.7 330.3,383.3 330.6,384.5 331.0,383.1 331.3,383.5 331.7,383.2 332.0,385.5 332.4,383.2 332.7,384.2 333.1,383.0 333.4,383.6 333.8,383.1 334.1,383.9 334.5,383.5 334.8,384.0 335.2,383.4 335.5,385.0 335.9,383.3 336.2,383.7 336.6,383.3 336.9,384.9 337.3,383.0 337.6,384.2 338.0,383.2 338.3,383.9 338.7,382.7 339.0,383.4 339.4,382.9 339.7,383.5 340.1,383.2 340.4,383.6 340.8,383.1 341.1,384.6 341.5,382.8 341.8,383.5 342.2,383.2 342.6,385.6 342.9,383.4 343.2,384.2 343.6,383.2 343.9,384.7 344.3,383.4 344.6,384.5 345.0,383.3 345.3,383.8 345.7,383.4 346.0,384.2 346.4,383.6 346.7,384.0 347.1,383.7 347.5,388.1 347.8,383.3 348.1,384.9 348.5,383.2 348.8,383.8 349.2,383.2 349.5,383.5 349.9,383.4 350.2,384.0 350.6,383.4 351.0,385.8 351.3,383.6 351.6,383.7 352.0,383.4 352.3,383.9 352.7,383.1 353.0,384.1 353.4,382.9 353.7,383.2 354.1,382.7 354.4,383.3 354.8,382.8 355.1,383.5 355.5,383.0 355.8,383.4 356.2,382.2 356.5,384.2 356.9,382.9 357.2,383.5 357.6,383.3 357.9,384.3 358.3,383.4 358.6,383.7 359.0,383.0 359.3,383.6 359.7,383.2 360.0,385.3 360.4,382.8 360.7,384.1 361.1,382.9 361.4,382.9 361.8,382.0 362.1,384.7 362.5,382.9 362.8,383.7 363.2,383.0 363.5,383.9 363.9,383.0 364.2,383.3 364.6,383.1 364.9,383.6 365.3,383.0 365.6,383.4 366.0,383.3 366.3,384.4 366.7,382.8 367.0,384.2 367.4,383.0 367.7,384.3 368.1,383.1 368.4,383.7 368.8,383.2 369.1,384.4 369.5,383.2 369.8,385.0 370.2,382.8 370.5,384.4 370.9,383.1 371.2,383.9 371.6,383.1 371.9,385.1 372.3,383.0 372.6,384.2 373.0,383.1 373.3,384.7 373.7,382.7 374.0,383.3 374.4,382.8 374.7,383.4 375.1,382.8 375.4,384.3 375.8,383.1 376.1,383.9 376.5,383.0 376.9,385.9 377.2,382.8 377.5,384.1 377.9,383.1 378.2,383.5 378.6,383.2 378.9,384.5 379.3,383.4 379.6,383.8 380.0,383.1 380.3,384.1 380.7,383.0 381.0,383.6 381.4,382.9 381.7,384.9 382.1,383.0 382.4,384.1 382.8,382.8 383.1,383.3 383.5,383.1 383.8,384.5 384.2,382.4 384.5,384.8 384.9,383.0 385.2,383.9 385.6,383.2 385.9,384.3 386.3,382.9 386.6,383.6 387.0,383.1 387.3,383.9 387.7,383.1 388.0,385.1 388.4,382.8 388.7,383.7 389.1,382.6 389.4,383.1 389.8,382.6 390.1,383.4 390.5,382.7 390.8,383.3 391.2,382.8 391.5,383.5 391.9,382.4 392.2,384.0 392.6,382.8 392.9,383.1 393.3,383.2 393.6,385.0 394.0,383.2 394.3,384.2 394.7,383.2 395.0,383.9 395.4,383.1 395.7,383.5 396.1,383.3 396.4,384.0 396.8,382.9 397.1,383.6 397.5,382.7 397.8,383.0 398.2,382.7 398.5,383.7 398.9,382.6 399.2,383.3 399.6,382.5 399.9,383.8 400.3,382.8 400.6,384.6 401.0,382.8 401.3,383.5 401.7,382.5 402.0,383.3 402.4,382.5 402.7,383.0 403.1,382.3 403.4,383.1 403.8,382.3 404.1,383.9 404.5,382.3 404.8,384.5 405.2,382.5 405.5,384.0 405.9,382.5 406.2,383.3 406.6,382.6 406.9,383.6 407.3,382.5 407.6,384.1 408.0,382.4 408.3,383.1 408.7,382.7 409.0,383.0 409.4,383.0 409.7,383.5 410.1,383.1 410.4,384.1 410.8,383.3 411.1,384.2 411.5,383.2 411.8,383.2 412.2,382.8 412.5,383.9 412.9,382.4 413.2,383.5 413.6,382.5 413.9,382.7 414.3,382.1 414.6,383.9 415.0,381.9 415.3,383.8 415.7,382.0 416.0,384.7 416.4,382.1 416.7,382.4 417.1,382.0 417.4,384.8 417.8,382.0 418.1,383.3 418.5,382.4 418.8,383.0 419.2,382.3 419.5,383.0 419.9,382.4 420.2,382.9 420.6,382.3 420.9,382.9 421.3,382.3 421.6,383.0 422.0,382.5 422.3,383.0 422.7,382.5 423.0,384.0 423.4,382.4 423.7,383.5 424.1,382.4 424.4,382.7 424.8,382.2 425.1,382.9 425.5,382.3 425.8,383.1 426.2,381.8 426.5,382.4 426.9,381.9 427.2,382.2 427.6,381.3 427.9,383.6 428.3,381.8 428.6,382.4 429.0,381.8 429.3,382.6 429.7,382.1 430.0,382.9 430.4,382.3 430.7,382.9 431.1,382.4 431.4,384.4 431.8,382.7 432.1,383.9 432.5,382.8 432.8,384.1 433.2,382.9 433.5,383.4 433.9,382.9 434.2,382.8 434.6,382.3 434.9,382.8 435.3,382.3 435.6,382.5 436.0,381.6 436.3,383.5 436.7,382.0 437.0,383.0 437.4,382.3 437.7,384.0 438.1,382.6 438.4,382.9 438.8,382.6 439.2,387.0 439.5,382.5 439.8,383.3 440.2,382.6 440.5,383.6 440.9,382.3 441.2,384.4 441.6,382.0 441.9,382.9 442.3,382.2 442.6,383.5 443.0,382.2 443.3,383.8 443.7,382.0 444.0,382.7 444.4,382.4 444.7,383.2 445.1,382.4 445.4,383.3 445.8,382.4 446.1,383.5 446.5,382.6 446.8,382.8 447.2,382.1 447.5,382.5 447.9,382.5 448.2,382.7 448.6,382.1 448.9,383.3 449.3,382.6 449.6,384.2 450.0,382.2 450.4,384.1 450.7,382.4 451.0,382.6 451.4,382.2 451.7,383.1 452.1,382.1 452.4,382.8 452.8,382.0 453.1,382.8 453.5,381.9 453.8,382.4 454.2,381.6 454.6,385.0 454.9,381.6 455.3,384.3 455.6,381.5 455.9,382.3 456.3,381.8 456.7,385.1 457.0,381.8 457.3,382.3 457.7,381.7 458.0,382.3 458.4,381.6 458.7,382.8 459.0,381.4 459.4,382.8 459.8,381.4 460.1,382.7 460.4,381.3 460.8,382.3 461.2,381.6 461.5,382.8 461.9,382.0 462.3,383.5 462.6,381.9 463.0,383.4 463.3,382.0 463.7,384.2 464.0,381.6 464.4,383.2 464.7,381.7 465.0,382.2 465.4,381.6 465.7,382.2 466.1,381.7 466.4,383.0 466.8,381.5 467.1,382.9 467.5,381.5 467.8,382.5 468.2,381.8 468.6,385.1 468.9,381.5 469.2,381.9 469.6,381.6 469.9,381.7 470.3,381.5 470.6,382.8 471.0,381.4 471.3,382.4 471.7,381.6 472.0,381.8 472.4,381.6 472.7,382.3 473.1,381.4 473.5,383.0 473.8,381.6 474.1,382.1 474.5,381.5 474.8,382.8 475.2,381.4 475.5,382.5 475.9,381.2 476.2,382.3 476.5,380.9 476.9,382.1 477.3,381.1 477.6,381.5 478.0,381.4 478.3,382.0 478.7,381.4 479.0,382.0 479.4,381.5 479.7,382.3 480.1,381.5 480.4,382.7 480.8,381.6 481.2,383.0 481.5,381.4 481.8,382.1 482.2,381.2 482.6,383.1 482.9,381.6 483.3,383.0 483.6,381.6 483.9,382.4 484.3,381.6 484.6,381.8 485.0,381.2 485.3,381.4 485.7,381.3 486.1,382.8 486.4,381.3 486.7,381.5 487.1,381.2 487.4,381.5 487.8,381.0 488.1,382.6 488.5,381.3 488.8,382.4 489.2,381.0 489.5,381.4 489.9,381.1 490.2,382.0 490.6,381.1 490.9,382.5 491.3,381.2 491.6,381.8 492.0,381.2 492.3,382.1 492.7,381.2 493.0,381.7 493.3,380.7 493.8,383.5 494.0,380.6 494.5,383.2 494.7,380.6 495.1,381.2 495.4,380.7 495.8,382.1 496.1,380.6 496.5,381.0 496.8,380.7 497.2,381.9 497.6,381.2 497.9,381.6 498.2,380.7 498.6,381.3 498.9,380.7 499.3,381.7 499.6,380.4 500.0,382.3 500.3,380.1 500.7,380.2 501.0,380.4 501.4,380.9 501.7,380.6 502.1,381.6 502.4,380.6 502.8,380.9 503.1,380.6 503.5,381.1 503.8,380.6 504.2,381.6 504.6,380.8 504.9,381.0 505.2,380.3 505.6,381.2 505.9,380.6 506.3,380.8 506.6,380.1 507.1,382.5 507.3,380.6 507.7,381.6 508.0,380.2 508.4,381.2 508.7,380.6 509.1,382.0 509.4,380.6 509.8,380.9 510.1,380.6 510.5,380.9 510.8,380.2 511.2,381.0 511.5,380.3 511.9,380.4 512.2,380.1 512.6,380.8 512.9,380.2 513.3,380.2 513.6,379.9 514.0,380.9 514.3,380.3 514.7,382.0 515.0,380.2 515.4,381.4 515.8,380.6 516.2,382.4 516.5,380.6 516.8,380.8 517.1,380.2 517.5,380.7 517.8,380.3 518.2,380.4 518.5,380.3 518.9,381.0 519.2,380.3 519.6,380.8 520.0,380.6 520.3,381.9 520.7,380.5 521.0,380.9 521.3,380.3 521.7,380.5 522.0,379.9 522.4,380.8 522.7,380.2 523.1,381.4 523.4,379.9 523.8,380.9 524.1,379.7 524.5,382.2 524.8,379.9 525.2,380.3 525.5,379.4 525.9,379.8 526.2,379.7 526.6,380.3 526.9,379.9 527.3,380.4 527.6,379.6 528.0,380.6 528.3,379.7 528.7,380.3 529.0,379.4 529.4,380.5 529.7,379.7 530.1,380.4 530.4,379.7 530.8,380.9 531.1,379.6 531.5,379.9 531.8,379.6 532.2,380.4 532.5,379.2 532.9,380.3 533.2,378.4 533.6,379.8 533.9,379.5 534.3,380.8 534.6,379.3 535.0,380.2 535.3,379.7 535.7,379.8 536.0,379.7 536.4,380.1 536.7,379.9 537.1,380.1 537.4,379.6 537.8,380.2 538.1,379.4 538.5,379.9 538.8,379.6 539.3,382.1 539.5,379.2 539.9,380.0 540.2,379.5 540.6,380.1 540.9,379.8 541.3,380.1 541.6,379.7 542.0,380.9 542.3,380.2 542.7,381.8 543.0,380.0 543.4,381.7 543.7,379.4 544.1,380.4 544.4,379.6 544.8,380.2 545.1,379.5 545.5,380.4 545.8,379.5 546.2,380.5 546.5,379.5 546.9,380.4 547.2,379.9 547.6,381.8 547.9,379.5 548.3,380.3 548.6,379.4 549.0,381.1 549.3,379.9 549.7,381.0 550.0,379.5 550.4,380.2 550.7,379.3 551.1,380.1 551.4,379.7 551.9,382.2 552.1,379.4 552.6,383.2 552.8,378.9 553.2,380.2 553.5,379.1 553.9,380.0 554.2,378.9 554.6,379.3 554.9,378.8 555.3,380.1 555.6,379.3 556.0,380.2 556.3,379.4 556.7,379.9 557.0,379.3 557.4,380.9 557.7,379.1 558.1,380.5 558.4,379.1 558.9,381.8 559.1,379.4 559.5,380.6 559.8,379.5 560.2,379.9 560.5,379.8 560.9,380.3 561.2,379.7 561.6,380.5 561.9,379.4 562.3,380.7 562.6,379.0 563.0,380.3 563.3,378.9 563.7,379.9 564.0,378.6 564.4,379.3 564.7,378.9 565.1,379.6 565.4,379.0 565.8,379.4 566.1,378.8 566.5,379.6 566.8,379.0 567.2,380.2 567.5,378.8 567.9,380.1 568.2,378.7 568.6,379.8 568.9,378.5 569.3,378.8 569.6,378.5 570.0,379.0 570.3,378.8 570.7,380.2 571.0,378.9 571.4,379.6 571.7,378.8 572.1,378.9 572.4,378.8 572.8,379.7 573.1,378.7 573.5,379.4 573.8,378.7 574.2,378.8 574.5,378.7 574.9,379.7 575.2,378.5 575.6,378.8 575.9,378.4 576.3,379.5 576.6,378.3 577.1,382.6 577.3,378.4 577.7,378.8 578.0,378.4 578.4,379.9 578.7,378.0 579.1,379.0 579.4,378.2 579.8,380.2 579.8,391.6 579.4,391.8 579.1,390.6 578.7,391.9 578.4,390.9 578.0,392.0 577.7,391.4 577.3,391.8 577.0,390.6 576.6,391.9 576.3,391.4 575.9,391.8 575.6,390.6 575.2,391.6 574.9,391.0 574.5,391.8 574.2,391.9 573.8,392.1 573.5,391.2 573.2,392.6 572.8,391.5 572.4,392.3 572.1,392.3 571.8,393.5 571.4,391.5 571.1,392.5 570.7,391.6 570.4,392.4 570.0,391.8 569.6,392.0 569.3,390.7 568.9,392.0 568.5,389.6 568.2,391.9 567.9,391.5 567.5,392.3 567.2,391.4 566.8,392.2 566.5,391.3 566.2,392.4 565.8,391.0 565.4,392.3 565.1,391.8 564.7,392.0 564.4,391.7 564.0,391.9 563.7,391.3 563.3,392.3 563.0,391.5 562.6,392.2 562.3,390.8 561.9,392.1 561.6,391.2 561.2,391.9 560.8,389.5 560.5,392.1 560.2,392.0 559.9,392.5 559.5,391.0 559.2,392.6 558.8,392.3 558.5,392.8 558.1,391.3 557.8,392.5 557.3,390.5 557.1,392.7 556.6,389.9 556.4,392.7 556.0,391.9 555.7,392.7 555.3,391.2 555.0,392.8 554.6,392.0 554.3,393.0 553.9,391.8 553.6,392.9 553.2,391.0 552.9,393.0 552.5,392.9 552.2,393.1 551.8,392.4 551.5,392.8 551.1,392.0 550.8,392.9 550.4,392.6 550.1,392.9 549.7,392.4 549.4,392.8 549.0,392.3 548.7,392.8 548.2,390.4 548.0,393.1 547.6,392.1 547.3,392.7 546.8,390.5 546.6,393.5 546.2,392.7 545.9,392.9 545.5,392.5 545.2,393.0 544.8,392.8 544.5,393.3 544.1,392.1 543.8,393.0 543.4,392.7 543.1,393.2 542.7,391.7 542.4,392.9 542.0,392.4 541.7,393.2 541.3,392.1 541.0,393.0 540.6,391.4 540.3,392.9 539.8,390.9 539.6,393.2 539.2,391.2 538.9,393.2 538.5,392.0 538.2,393.1 537.8,392.4 537.5,393.1 537.1,391.8 536.8,393.1 536.4,391.8 536.0,392.8 535.7,392.7 535.4,392.9 535.0,391.5 534.7,393.1 534.3,392.6 534.0,393.0 533.6,392.8 533.3,393.5 532.9,393.2 532.6,393.4 532.2,392.8 531.9,393.8 531.5,392.9 531.2,393.8 530.8,393.0 530.5,393.8 530.1,393.0 529.8,393.7 529.4,392.1 529.1,393.6 528.7,391.5 528.4,393.7 528.0,393.4 527.7,393.7 527.3,393.5 527.0,394.0 526.6,393.3 526.3,393.5 525.9,392.3 525.6,393.8 525.2,393.2 524.9,393.6 524.5,393.3 524.2,393.9 523.8,392.7 523.5,393.7 523.1,392.4 522.8,393.6 522.4,393.2 522.1,393.5 521.7,392.4 521.4,393.1 521.0,392.1 520.6,392.9 520.3,392.3 520.0,393.1 519.6,392.9 519.3,393.4 518.9,393.3 518.6,393.5 518.2,392.2 517.9,393.7 517.5,393.5 517.2,394.0 516.8,393.6 516.5,393.8 516.1,392.2 515.8,393.6 515.4,393.7 515.1,394.0 514.7,391.8 514.4,394.0 514.0,393.4 513.7,394.0 513.3,393.8 513.0,393.9 512.6,393.3 512.3,394.0 511.9,393.0 511.6,394.0 511.2,393.7 510.9,393.9 510.5,392.1 510.2,393.9 509.8,392.3 509.5,393.9 509.1,392.9 508.8,393.8 508.3,391.4 508.1,393.6 507.7,392.5 507.4,394.4 507.0,393.3 506.7,393.7 506.3,393.4 506.0,393.8 505.6,393.1 505.3,394.1 504.9,393.9 504.6,394.3 504.2,393.9 503.9,394.2 503.5,393.1 503.2,394.8 502.8,393.6 502.5,394.3 502.1,393.6 501.8,393.9 501.4,393.0 501.1,393.6 500.7,393.3 500.4,393.8 500.0,393.2 499.7,393.6 499.3,393.1 499.0,393.8 498.6,392.7 498.3,394.2 497.9,393.7 497.6,393.9 497.2,393.1 496.9,394.2 496.5,394.2 496.2,394.4 495.8,393.7 495.5,394.1 495.1,393.4 494.8,394.0 494.4,393.9 494.1,394.2 493.7,393.2 493.4,394.5 493.0,393.7 492.7,394.4 492.3,393.9 492.0,394.6 491.6,393.8 491.3,394.4 490.9,393.7 490.6,394.5 490.2,393.3 489.9,394.2 489.5,393.6 489.2,394.2 488.8,392.8 488.5,394.2 488.1,392.7 487.8,394.4 487.4,393.7 487.1,394.6 486.7,394.0 486.4,394.8 486.0,392.0 485.7,394.4 485.1,387.8 485.0,394.7 484.6,392.8 484.3,394.9 483.9,394.0 483.6,394.6 483.2,393.0 482.9,394.7 482.5,394.1 482.2,394.5 481.8,394.2 481.5,394.5 481.1,393.9 480.8,394.7 480.4,393.8 480.1,394.6 479.7,393.6 479.4,394.5 479.0,394.5 478.7,395.2 478.3,394.8 478.0,395.0 477.6,394.3 477.3,395.2 476.9,392.7 476.6,395.2 476.2,394.9 475.9,395.4 475.4,391.9 475.2,395.3 474.8,393.6 474.5,395.2 474.1,394.2 473.8,395.2 473.4,393.9 473.1,394.8 472.7,394.8 472.4,395.1 472.0,393.7 471.7,394.9 471.3,394.0 471.0,394.6 470.6,394.0 470.3,394.6 469.9,393.8 469.6,394.8 469.2,394.2 468.9,395.1 468.5,393.5 468.2,394.9 467.8,394.8 467.5,395.1 467.1,393.8 466.8,395.0 466.4,394.5 466.1,394.9 465.7,393.6 465.4,394.7 465.0,393.5 464.7,395.2 464.3,392.9 464.0,395.2 463.6,395.1 463.3,395.4 462.9,395.1 462.6,395.5 462.2,395.4 461.9,395.5 461.5,394.3 461.2,395.3 460.8,394.3 460.5,395.5 460.1,394.9 459.8,395.2 459.4,393.9 459.1,395.2 458.7,394.3 458.4,395.1 458.0,394.5 457.7,395.3 457.3,395.1 457.0,395.5 456.6,395.5 456.3,396.0 455.9,394.9 455.6,395.7 455.2,395.2 454.9,395.6 454.5,394.3 454.2,395.8 453.8,394.4 453.5,395.6 453.1,393.8 452.8,395.4 452.4,395.0 452.1,395.6 451.7,395.1 451.4,395.4 451.0,395.5 450.7,395.8 450.3,395.3 450.0,395.8 449.6,394.8 449.3,395.6 448.9,394.3 448.6,395.6 448.2,394.8 447.9,395.7 447.5,395.3 447.2,396.0 446.8,395.6 446.5,396.1 446.1,394.3 445.8,396.1 445.4,395.0 445.1,396.0 444.7,394.7 444.4,395.9 444.0,395.0 443.7,396.0 443.3,395.8 443.0,395.9 442.6,395.2 442.3,395.9 441.9,395.2 441.6,396.0 441.2,395.5 440.9,396.2 440.5,395.0 440.2,396.4 439.8,395.3 439.5,396.5 439.2,396.0 438.8,397.2 438.4,395.6 438.1,396.0 437.7,394.5 437.4,396.1 437.0,395.0 436.7,396.3 436.3,395.7 436.0,395.9 435.6,395.9 435.3,396.4 434.9,395.7 434.6,396.6 434.2,395.9 433.9,396.3 433.5,395.5 433.2,396.2 432.8,394.5 432.5,396.2 432.1,394.9 431.8,395.8 431.4,395.5 431.1,396.0 430.7,394.8 430.4,395.7 430.0,394.8 429.7,395.9 429.3,395.0 429.0,396.0 428.6,395.7 428.3,396.0 427.9,395.4 427.6,395.9 427.2,394.4 426.9,396.2 426.5,395.3 426.2,395.7 425.8,395.0 425.5,395.9 425.1,395.1 424.8,396.0 424.4,395.2 424.1,396.1 423.7,395.8 423.4,396.2 423.0,395.3 422.7,396.3 422.3,396.1 422.0,396.3 421.6,394.8 421.3,396.6 420.9,396.1 420.6,396.4 420.2,396.1 419.9,396.2 419.5,396.0 419.2,396.1 418.8,396.0 418.5,396.2 418.1,395.0 417.8,396.4 417.4,394.5 417.1,396.7 416.7,394.6 416.4,396.8 416.0,395.3 415.7,397.0 415.3,395.2 415.0,396.7 414.5,390.7 414.3,396.6 413.9,395.8 413.6,397.2 413.3,396.6 412.9,397.0 412.5,395.2 412.2,396.9 411.8,394.9 411.5,396.6 411.1,396.0 410.8,396.6 410.4,394.8 410.1,396.4 409.7,394.9 409.4,396.7 409.0,395.9 408.7,396.7 408.4,396.7 408.0,396.9 407.6,395.7 407.3,396.5 406.9,396.0 406.6,396.6 406.2,395.5 405.9,396.6 405.5,396.3 405.2,396.7 404.8,396.0 404.5,396.8 404.2,396.3 403.8,396.6 403.4,394.2 403.1,396.4 402.7,396.0 402.4,396.2 402.0,395.2 401.7,396.0 401.3,396.1 401.0,396.2 400.6,395.8 400.3,396.4 399.9,395.8 399.6,396.8 399.3,396.5 398.9,397.0 398.6,396.7 398.2,396.9 397.8,395.6 397.5,397.8 397.1,395.3 396.8,396.9 396.4,396.0 396.1,396.9 395.7,395.5 395.4,396.7 395.0,395.1 394.7,396.7 394.4,396.4 394.0,396.5 393.6,394.6 393.3,396.6 392.9,394.9 392.6,396.7 392.2,395.3 391.9,396.8 391.5,395.4 391.2,397.0 390.8,396.1 390.5,396.7 390.2,396.6 389.8,397.1 389.5,396.7 389.1,397.1 388.7,395.5 388.4,397.1 388.0,395.8 387.7,396.8 387.3,394.6 387.0,396.7 386.6,396.2 386.3,396.9 385.9,396.0 385.6,396.7 385.3,396.6 384.9,396.7 384.5,396.1 384.2,397.0 383.8,396.4 383.5,397.1 383.1,395.5 382.8,397.0 382.4,394.9 382.1,397.4 381.7,396.6 381.4,396.9 381.0,395.8 380.7,396.6 380.3,396.2 380.0,396.8 379.6,394.0 379.3,396.9 379.0,396.9 378.6,397.0 378.3,396.7 377.9,396.9 377.5,395.8 377.2,397.3 376.8,395.1 376.5,397.4 376.2,396.7 375.8,397.1 375.4,396.0 375.1,397.5 374.7,396.2 374.4,397.1 374.0,396.3 373.7,397.1 373.4,396.8 373.0,397.4 372.6,395.9 372.3,397.1 372.0,397.0 371.6,397.3 371.2,395.4 370.9,397.4 370.5,396.2 370.2,397.4 369.9,396.8 369.5,397.3 369.2,397.0 368.8,397.4 368.5,396.9 368.1,397.5 367.7,395.6 367.4,397.6 367.1,396.8 366.7,397.3 366.3,396.3 366.0,397.5 365.7,396.8 365.3,397.5 364.9,396.3 364.6,397.8 364.2,396.3 363.9,397.8 363.6,397.1 363.2,397.6 362.9,397.4 362.5,397.4 362.1,395.9 361.8,397.2 361.4,396.0 361.1,397.4 360.7,395.4 360.4,397.1 360.0,396.7 359.7,397.6 359.3,396.3 359.0,397.4 358.6,392.3 358.3,397.5 357.9,396.4 357.6,397.5 357.3,397.3 356.9,397.9 356.5,396.0 356.2,397.9 355.9,397.3 355.5,397.7 355.2,396.9 354.8,397.8 354.5,397.8 354.1,398.0 353.7,396.5 353.4,397.8 353.0,395.6 352.7,397.5 352.4,397.5 352.0,397.9 351.6,396.7 351.3,397.8 350.9,396.6 350.6,398.2 350.3,397.1 349.9,398.2 349.6,397.4 349.2,397.7 348.9,397.3 348.5,397.7 348.2,397.4 347.8,397.7 347.4,396.4 347.1,397.7 346.7,396.9 346.4,397.8 346.1,397.2 345.7,398.2 345.3,395.6 345.0,397.7 344.6,396.8 344.3,397.6 343.9,396.9 343.6,397.9 343.3,397.5 342.9,398.1 342.6,397.3 342.2,398.1 341.8,396.3 341.5,398.2 341.1,396.2 340.8,397.8 340.5,397.1 340.1,398.0 339.8,397.4 339.4,397.7 339.1,397.4 338.7,398.1 338.4,397.6 338.0,398.0 337.7,397.9 337.3,398.1 336.9,396.6 336.6,398.0 336.2,396.8 335.9,397.9 335.6,397.3 335.2,397.9 334.8,396.4 334.5,397.9 334.1,396.9 333.8,397.7 333.5,397.2 333.1,397.8 332.7,396.0 332.4,397.8 332.1,397.7 331.7,398.0 331.3,396.8 331.0,397.9 330.7,397.9 330.3,398.3 329.9,396.4 329.6,398.2 329.2,396.9 328.9,398.3 328.6,397.4 328.2,398.3 327.8,396.6 327.5,398.3 327.2,397.3 326.8,398.2 326.5,398.0 326.1,398.2 325.8,397.5 325.4,398.3 325.0,396.4 324.7,398.1 324.4,397.7 324.0,398.0 323.6,397.1 323.3,398.2 323.0,398.1 322.6,398.5 322.3,397.8 321.9,398.5 321.5,396.9 321.2,398.4 320.9,398.0 320.5,398.7 320.2,397.7 319.8,398.8 319.4,392.9 319.1,398.7 318.8,398.3 318.4,398.5 318.0,396.2 317.7,398.6 317.4,397.5 317.0,398.2 316.7,397.6 316.3,398.2 316.0,398.0 315.6,398.2 315.3,398.2 314.9,398.4 314.5,396.7 314.2,398.5 313.9,398.0 313.5,398.2 313.2,398.1 312.8,398.2 312.5,397.6 312.1,398.1 311.7,396.5 311.4,398.2 311.0,396.9 310.7,398.2 310.4,397.4 310.0,398.4 309.7,397.7 309.3,398.3 308.9,396.9 308.6,398.5 308.3,397.3 307.9,398.6 307.6,397.4 307.2,398.3 306.8,396.4 306.5,398.5 306.2,397.7 305.8,398.3 305.5,398.0 305.1,398.8 304.8,397.7 304.4,398.4 304.1,397.5 303.7,398.4 303.4,397.7 303.0,398.3 302.7,397.7 302.3,398.4 302.0,398.2 301.6,398.6 301.3,397.8 300.9,398.3 300.6,398.0 300.2,398.4 299.9,397.8 299.5,398.6 299.2,398.3 298.8,398.7 298.5,398.3 298.1,398.6 297.8,397.6 297.4,398.6 297.1,397.5 296.7,398.7 296.4,398.4 296.0,398.7 295.7,397.0 295.3,398.5 295.0,397.4 294.6,398.6 294.3,398.3 293.9,398.5 293.6,397.6 293.2,398.6 292.9,397.1 292.5,398.3 292.2,398.1 291.8,398.5 291.5,398.0 291.1,398.8 290.7,396.5 290.4,398.7 290.1,398.4 289.7,398.8 289.3,394.8 289.0,398.5 288.7,398.0 288.3,398.3 287.9,396.6 287.6,398.6 287.3,398.2 286.9,398.6 286.5,392.5 286.2,398.8 285.9,398.4 285.5,399.1 285.2,397.9 284.8,398.9 284.5,397.3 284.1,398.9 283.8,397.6 283.4,398.8 283.1,397.1 282.7,398.6 282.4,397.9 282.0,398.4 281.7,398.3 281.3,398.5 281.0,397.9 280.6,398.6 280.2,396.7 279.9,399.1 279.6,397.4 279.2,399.1 278.9,399.1 278.5,399.6 278.2,398.1 277.8,399.3 277.5,397.5 277.1,399.0 276.8,398.8 276.4,398.7 276.1,398.0 275.7,398.4 275.4,398.0 275.0,398.5 274.7,397.5 274.3,398.6 273.9,396.6 273.6,398.6 273.3,397.6 272.9,399.0 272.6,398.7 272.2,399.0 271.9,398.3 271.5,399.2 271.2,398.3 270.8,399.1 270.5,399.0 270.1,399.0 269.8,398.3 269.4,398.9 269.1,398.5 268.7,399.0 268.4,397.7 268.0,398.8 267.7,397.9 267.3,398.8 267.0,398.0 266.6,398.9 266.3,398.0 265.9,398.9 265.6,398.1 265.2,398.5 264.9,397.8 264.5,398.5 264.1,397.1 263.8,398.4 263.5,397.2 263.1,398.6 262.8,397.4 262.4,398.7 262.0,396.4 261.7,398.8 261.4,398.3 261.0,399.2 260.7,397.2 260.3,399.3 260.0,398.9 259.6,399.8 259.3,398.3 258.9,399.7 258.6,399.7 258.2,400.2 257.9,399.5 257.5,399.8 257.2,399.2 256.8,399.7 256.5,399.1 256.1,399.3 255.7,396.6 255.4,399.2 255.1,398.7 254.7,399.3 254.4,398.2 254.0,399.5 253.7,398.8 253.3,399.4 253.0,397.5 252.6,399.0 252.3,397.7 251.9,399.1 251.6,398.1 251.2,399.0 250.9,398.5 250.5,398.7 250.2,397.7 249.8,399.3 249.5,398.2 249.1,399.2 248.8,398.9 248.4,399.2 248.1,398.3 247.7,399.5 247.4,397.4 247.0,399.6 246.7,399.4 246.3,399.5 246.0,398.8 245.6,399.6 245.3,398.0 244.9,399.4 244.6,397.9 244.2,399.9 243.9,398.1 243.5,399.7 243.2,399.5 242.8,399.6 242.5,398.5 242.1,399.7 241.8,398.4 241.4,399.2 241.1,398.5 240.7,399.1 240.3,397.2 240.0,399.3 239.7,398.0 239.3,399.5 239.0,397.9 238.6,399.3 238.3,398.7 237.9,399.3 237.6,398.5 237.2,399.7 236.9,398.8 236.5,399.1 236.2,398.8 235.8,399.4 235.4,395.3 235.1,399.1 234.8,398.8 234.4,399.1 234.1,398.8 233.7,399.2 233.4,397.9 233.0,398.8 232.7,397.9 232.3,399.4 232.0,398.8 231.6,399.1 231.3,398.2 230.9,399.6 230.6,398.6 230.2,399.6 229.9,398.4 229.5,399.4 229.2,398.5 228.8,399.6 228.5,398.2 228.1,400.0 227.8,398.3 227.4,399.9 227.1,397.7 226.7,400.0 226.4,399.1 226.0,400.0 225.7,398.5 225.3,399.7 225.0,399.5 224.6,399.7 224.3,398.4 223.9,399.8 223.6,399.5 223.2,399.7 222.9,398.6 222.5,399.8 222.2,399.0 221.8,400.3 221.5,399.6 221.1,399.7 220.8,397.7 220.4,399.8 220.1,399.4 219.7,399.8 219.4,397.9 219.0,399.7 218.7,398.9 218.3,399.7 218.0,399.2 217.6,399.6 217.3,398.6 216.9,399.5 216.6,398.9 216.2,399.8 215.9,398.0 215.5,399.2 215.2,399.1 214.8,399.4 214.5,399.1 214.1,399.5 213.8,399.1 213.4,399.9 213.1,399.2 212.7,399.9 212.4,399.3 212.0,400.2 211.7,399.6 211.3,399.8 211.0,399.2 210.6,399.6 210.3,399.6 209.9,399.8 209.6,399.0 209.2,399.8 208.9,399.5 208.5,400.2 208.2,399.7 207.8,400.1 207.5,399.5 207.1,400.1 206.8,399.8 206.4,400.4 206.1,398.0 205.7,399.8 205.4,397.7 205.0,399.8 204.7,399.5 204.3,399.9 204.0,399.4 203.6,399.9 203.2,396.6 202.9,400.2 202.6,399.5 202.2,400.4 201.9,400.0 201.5,400.5 201.2,399.5 200.8,400.2 200.5,398.7 200.1,399.9 199.8,399.3 199.4,400.0 199.1,399.1 198.7,400.0 198.4,399.6 198.0,399.8 197.7,398.4 197.3,399.9 197.0,399.1 196.6,400.0 196.3,398.6 195.9,399.9 195.6,398.9 195.2,399.7 194.9,398.4 194.5,400.0 194.2,399.3 193.8,400.3 193.5,399.3 193.1,400.4 192.8,399.5 192.4,400.1 192.1,398.3 191.7,400.4 191.4,398.7 191.0,400.0 190.7,398.3 190.3,400.1 190.0,399.0 189.6,400.2 189.3,399.6 188.9,400.3 188.6,398.6 188.2,400.3 187.9,400.0 187.5,400.5 187.2,400.0 186.8,400.4 186.5,399.7 186.1,400.6 185.8,399.5 185.4,400.8 185.1,399.3 184.7,400.4 184.4,399.0 184.0,400.2 183.7,399.4 183.3,400.2 183.0,399.0 182.6,400.0 182.3,399.0 181.9,399.9 181.6,398.4 181.2,400.1 180.9,399.1 180.5,400.2 180.2,399.5 179.8,400.0 179.5,399.7 179.1,400.6 178.8,399.8 178.4,400.3 178.1,399.8 177.7,400.4 177.4,399.9 177.0,400.2 176.7,399.7 176.3,400.8 176.0,399.3 175.6,400.4 175.3,399.3 174.9,400.5 174.6,399.6 174.2,400.2 173.9,398.7 173.5,400.5 173.2,399.7 172.8,400.2 172.5,398.6 172.1,400.3 171.8,399.6 171.4,400.2 171.1,400.3 170.7,400.5 170.4,398.6 170.0,400.3 169.7,400.1 169.3,400.2 169.0,399.3 168.6,400.8 168.3,399.7 167.9,400.4 167.6,400.1 167.2,400.6 166.8,396.5 166.5,400.6 166.2,399.2 165.9,401.6 165.5,399.2 165.1,400.2 164.8,399.5 164.4,400.4 164.1,398.8 163.7,400.3 163.4,400.0 163.0,400.5 162.7,400.2 162.3,400.5 162.0,399.7 161.6,400.3 161.2,397.5 160.9,400.3 160.6,399.9 160.2,400.5 159.9,399.8 159.5,400.7 159.2,398.9 158.8,400.8 158.5,400.2 158.1,401.2 157.8,400.5 157.4,401.1 157.1,400.3 156.7,400.8 156.4,400.6 156.0,400.9 155.7,400.2 155.3,400.7 155.0,400.0 154.6,400.5 154.3,399.7 153.9,400.9 153.6,400.0 153.2,400.7 152.9,399.2 152.5,400.5 152.2,398.8 151.8,400.7 151.5,399.5 151.1,400.6 150.8,398.9 150.4,400.7 150.1,399.4 149.7,401.1 149.4,399.9 149.0,400.7 148.7,400.1 148.3,400.7 148.0,399.0 147.6,400.6 147.3,399.7 146.9,401.0 146.6,400.1 146.2,400.6 145.9,400.3 145.5,400.7 145.2,399.9 144.8,400.6 144.5,400.3 144.1,400.7 143.8,399.8 143.4,400.8 143.1,400.1 142.7,400.9 142.4,400.7 142.0,400.8 141.7,399.9 141.3,401.1 141.0,399.2 140.6,401.0 140.3,399.9 139.9,401.0 139.6,400.5 139.2,401.2 138.9,398.9 138.5,401.1 138.2,400.7 137.8,401.1 137.5,399.7 137.1,401.1 136.8,399.8 136.4,401.0 136.1,400.1 135.7,400.9 135.3,396.7 135.0,400.9 134.7,400.1 134.3,401.1 134.0,400.6 133.6,401.0 133.3,400.0 132.9,401.3 132.6,400.6 132.2,401.3 131.9,400.3 131.5,401.1 131.2,400.7 130.8,401.2 130.5,399.4 130.1,401.5 129.8,399.8 129.4,401.2 129.1,400.6 128.7,401.4 128.4,400.9 128.0,401.1 127.7,401.0 127.3,401.3 127.0,399.8 126.6,401.2 126.3,400.0 125.9,401.3 125.6,400.1 125.2,401.3 124.9,400.3 124.5,401.1 124.2,400.4 123.8,401.2 123.5,401.0 123.1,401.1 122.8,400.1 122.4,401.2 122.1,400.6 121.7,401.5 121.4,400.7 121.1,401.8 120.7,400.2 120.3,401.4 120.0,401.2 119.6,401.2 119.3,399.6 118.9,401.4 118.6,399.9 118.2,401.4 117.9,399.6 117.5,401.1 117.2,399.8 116.8,400.9 116.5,400.5 116.1,400.8 115.8,400.0 115.4,401.0 115.1,400.3 114.7,401.0 114.4,401.0 114.0,401.5 113.7,400.4 113.3,401.1 113.0,399.4 112.6,401.1 112.3,400.2 111.9,401.0 111.6,399.6 111.2,400.9 110.9,399.7 110.5,400.9 110.2,398.3 109.8,400.9 109.5,400.5 109.1,401.3 108.8,400.4 108.4,400.8 108.1,399.0 107.7,401.0 107.4,399.4 107.0,401.0 106.7,400.2 106.3,401.2 106.0,401.1 105.6,401.8 105.3,399.6 104.9,401.8 104.6,400.7 104.2,401.7 103.9,401.0 103.6,402.1 103.2,400.4 102.9,401.9 102.5,401.3 102.2,402.1 101.8,401.6 101.4,401.6 101.1,399.2 100.7,401.7 100.4,400.5 100.0,401.3 99.7,401.0 99.3,401.7 99.0,400.7 98.6,401.1 98.3,400.2 97.9,401.5 97.6,401.2 97.2,401.7 96.9,401.0 96.5,401.6 96.2,400.5 95.9,402.0 95.5,401.7 95.1,401.8 94.8,401.2 94.4,401.7 94.1,400.3 93.7,401.4 93.4,400.4 93.0,401.7 92.7,401.2 92.3,401.6 92.0,400.4 91.7,402.0 91.3,400.2 91.0,402.1 90.6,401.5 90.2,401.7 89.9,400.6 89.5,401.7 89.2,399.5 88.8,401.2 88.5,401.1 88.1,401.5 87.8,400.7 87.5,402.1 87.1,400.1 86.7,401.4 86.4,399.8 86.0,401.7 85.7,401.3 85.3,401.6 85.0,400.8 84.6,401.5 84.3,400.1 83.9,401.1 83.5,397.8 83.2,401.6 82.9,401.2 82.5,401.8 82.2,401.3 81.8,401.8 81.5,401.1 81.2,402.4 80.8,401.6 80.4,401.9 80.1,400.9 79.7,401.9 79.4,400.7 79.0,401.8 78.6,398.5 78.3,401.8 78.0,400.6 77.6,401.8 77.3,401.1 76.9,401.8 76.6,401.5 76.2,401.8 75.9,401.0 75.5,401.9 75.2,400.9 74.8,401.9 74.5,400.3 74.1,401.6 73.8,401.2 73.4,401.7 73.1,401.1 72.7,401.6 72.4,401.2 72.0,401.9 71.7,400.1 71.3,401.6 70.9,399.2 70.6,401.7 70.2,398.7 69.9,402.0 69.6,401.2 69.3,402.2 68.9,402.1 68.6,402.4 68.2,401.9 67.9,402.2 67.5,400.4 67.2,402.2 66.8,400.8 66.5,402.2 66.1,400.7 65.7,402.0 65.4,401.5 65.0,401.8 64.7,399.9 64.4,402.3 64.0,401.8 63.7,402.7 63.3,401.3 63.0,402.4 62.6,401.8 62.3,402.3 61.9,401.6 61.5,402.1 61.2,399.8 60.8,402.0 60.5,400.8 60.1,402.0 59.8,401.8 59.4,402.0 59.1,400.7 58.8,402.2 58.4,401.3 58.0,402.1 57.7,400.0 57.4,402.2 57.0,402.0 56.6,402.1 56.2,398.4 56.0,402.4 55.6,400.9 55.3,402.4 54.9,402.1 54.6,402.2 54.2,401.3 53.8,402.1 53.5,400.9 53.1,401.6 52.8,401.0 52.4,402.0 52.1,401.3 51.7,401.9 51.4,401.6 51.0,402.0 50.7,401.5 50.4,402.7 50.0,402.3" fill="#fa6464" stroke="none" stroke-width="1.00" />
<line x1="252.60" y1="246.00" x2="252.60" y2="392.00" stroke="#fb6e6e" stroke-width="1.70" />
<line x1="477.20" y1="246.00" x2="477.20" y2="389.00" stroke="#fb6e6e" stroke-width="1.70" />
</g>
<rect x="51.00" y="246.30" width="527.70" height="188.10" fill="none" stroke="#000" stroke-width="1.40" />
<text x="51.00" y="453.70" font-size="14.60" text-anchor="middle" fill="#000" font-weight="normal" >0</text>
<line x1="116.53" y1="434.40" x2="116.53" y2="427.60" stroke="#000" stroke-width="1.40" />
<text x="116.53" y="453.70" font-size="14.60" text-anchor="middle" fill="#000" font-weight="normal" >100</text>
<line x1="182.06" y1="434.40" x2="182.06" y2="427.60" stroke="#000" stroke-width="1.40" />
<text x="182.06" y="453.70" font-size="14.60" text-anchor="middle" fill="#000" font-weight="normal" >200</text>
<line x1="247.59" y1="434.40" x2="247.59" y2="427.60" stroke="#000" stroke-width="1.40" />
<text x="247.59" y="453.70" font-size="14.60" text-anchor="middle" fill="#000" font-weight="normal" >300</text>
<line x1="313.12" y1="434.40" x2="313.12" y2="427.60" stroke="#000" stroke-width="1.40" />
<text x="313.12" y="453.70" font-size="14.60" text-anchor="middle" fill="#000" font-weight="normal" >400</text>
<line x1="378.65" y1="434.40" x2="378.65" y2="427.60" stroke="#000" stroke-width="1.40" />
<text x="378.65" y="453.70" font-size="14.60" text-anchor="middle" fill="#000" font-weight="normal" >500</text>
<line x1="444.18" y1="434.40" x2="444.18" y2="427.60" stroke="#000" stroke-width="1.40" />
<text x="444.18" y="453.70" font-size="14.60" text-anchor="middle" fill="#000" font-weight="normal" >600</text>
<line x1="509.71" y1="434.40" x2="509.71" y2="427.60" stroke="#000" stroke-width="1.40" />
<text x="509.71" y="453.70" font-size="14.60" text-anchor="middle" fill="#000" font-weight="normal" >700</text>
<text x="575.24" y="453.70" font-size="14.60" text-anchor="middle" fill="#000" font-weight="normal" >800</text>
<line x1="83.77" y1="434.40" x2="83.77" y2="430.90" stroke="#000" stroke-width="1.40" />
<line x1="149.30" y1="434.40" x2="149.30" y2="430.90" stroke="#000" stroke-width="1.40" />
<line x1="214.82" y1="434.40" x2="214.82" y2="430.90" stroke="#000" stroke-width="1.40" />
<line x1="280.36" y1="434.40" x2="280.36" y2="430.90" stroke="#000" stroke-width="1.40" />
<line x1="345.88" y1="434.40" x2="345.88" y2="430.90" stroke="#000" stroke-width="1.40" />
<line x1="411.42" y1="434.40" x2="411.42" y2="430.90" stroke="#000" stroke-width="1.40" />
<line x1="476.94" y1="434.40" x2="476.94" y2="430.90" stroke="#000" stroke-width="1.40" />
<line x1="542.48" y1="434.40" x2="542.48" y2="430.90" stroke="#000" stroke-width="1.40" />
<line x1="51.00" y1="289.00" x2="57.80" y2="289.00" stroke="#000" stroke-width="1.40" />
<text x="43.50" y="293.70" font-size="14.60" text-anchor="end" fill="#000" font-weight="normal" >-20</text>
<line x1="51.00" y1="343.00" x2="57.80" y2="343.00" stroke="#000" stroke-width="1.40" />
<text x="43.50" y="347.70" font-size="14.60" text-anchor="end" fill="#000" font-weight="normal" >-30</text>
<line x1="51.00" y1="397.00" x2="57.80" y2="397.00" stroke="#000" stroke-width="1.40" />
<text x="43.50" y="401.70" font-size="14.60" text-anchor="end" fill="#000" font-weight="normal" >-40</text>
<line x1="51.00" y1="262.00" x2="54.50" y2="262.00" stroke="#000" stroke-width="1.40" />
<line x1="51.00" y1="316.00" x2="54.50" y2="316.00" stroke="#000" stroke-width="1.40" />
<line x1="51.00" y1="370.00" x2="54.50" y2="370.00" stroke="#000" stroke-width="1.40" />
<line x1="51.00" y1="424.00" x2="54.50" y2="424.00" stroke="#000" stroke-width="1.40" />
<text x="13.70" y="340.20" font-size="14.40" text-anchor="middle" fill="#000" font-weight="normal" transform="rotate(-90 13.70 340.20)" >Photocurrent Density (mA/cm<tspan dy="-5.18" font-size="9.50">2</tspan><tspan dy="5.18">)</tspan></text>
<text x="317.90" y="467.60" font-size="14.70" text-anchor="middle" fill="#000" font-weight="normal" >Time (h)</text>
<text x="22.60" y="248.40" font-size="19.00" text-anchor="start" fill="#000" font-weight="normal" >d</text>
<line x1="59.00" y1="348.50" x2="108.05" y2="334.23" stroke="#3a3a3a" stroke-width="2.20" />
<polygon points="114.0,332.5 105.7,339.7 108.0,334.2 103.1,330.9" fill="#3a3a3a" stroke="#3a3a3a" stroke-width="0.60" stroke-linejoin="miter"/>
<text x="58.50" y="338.50" font-size="13.30" text-anchor="start" fill="#000" font-weight="normal" transform="rotate(-17.5 58.50 338.50)" >0.04 mA cm<tspan dy="-4.79" font-size="8.78">-2</tspan><tspan dy="4.79"> h</tspan><tspan dy="-4.79" font-size="8.78">-1</tspan></text>
<line x1="156.50" y1="320.00" x2="172.38" y2="271.39" stroke="#3a3a3a" stroke-width="2.20" />
<polygon points="174.3,265.5 175.6,276.4 172.4,271.4 166.8,273.6" fill="#3a3a3a" stroke="#3a3a3a" stroke-width="0.60" stroke-linejoin="miter"/>
<text x="172.40" y="300.50" font-size="13.30" text-anchor="start" fill="#000" font-weight="normal" >0.33 mA cm<tspan dy="-4.79" font-size="8.78">-2</tspan><tspan dy="4.79"> h</tspan><tspan dy="-4.79" font-size="8.78">-1</tspan></text>
<text x="268.80" y="344.80" font-size="12.70" text-anchor="start" fill="#000" font-weight="normal" >Light-off</text>
<line x1="280.50" y1="352.50" x2="262.84" y2="374.06" stroke="#111" stroke-width="1.60" />
<polygon points="256.5,381.8 260.2,370.6 266.7,376.0" fill="#111" stroke="none" stroke-width="1.00" />
<text x="305.80" y="364.80" font-size="13.30" text-anchor="start" fill="#000" font-weight="normal" transform="rotate(-2 305.80 364.80)" >0.0045 mA cm<tspan dy="-4.79" font-size="8.78">-2</tspan><tspan dy="4.79"> h</tspan><tspan dy="-4.79" font-size="8.78">-1</tspan></text>
<line x1="300.00" y1="374.30" x2="418.80" y2="370.88" stroke="#3a3a3a" stroke-width="2.20" />
<polygon points="425.0,370.7 415.1,375.6 418.8,370.9 414.9,366.4" fill="#3a3a3a" stroke="#3a3a3a" stroke-width="0.60" stroke-linejoin="miter"/>
<text x="489.00" y="344.00" font-size="12.70" text-anchor="start" fill="#000" font-weight="normal" >Light-off</text>
<line x1="503.00" y1="350.50" x2="485.33" y2="371.54" stroke="#111" stroke-width="1.60" />
<polygon points="478.9,379.2 482.8,368.1 489.2,373.5" fill="#111" stroke="none" stroke-width="1.00" />
<line x1="445.60" y1="259.70" x2="476.00" y2="259.70" stroke="#fa6464" stroke-width="1.80" />
<line x1="445.60" y1="275.60" x2="476.00" y2="275.60" stroke="#2a6ff0" stroke-width="1.80" />
<text x="478.30" y="264.00" font-size="12.90" text-anchor="start" fill="#000" font-weight="normal" >Au/GaN/Si</text>
<text x="478.30" y="280.00" font-size="12.90" text-anchor="start" fill="#000" font-weight="normal" >Au/Etch-GaN/Si</text>
</g>
<g id="panel-e">
<defs>
<radialGradient id="sg_blue" cx="0.35" cy="0.3" r="0.75"><stop offset="0" stop-color="#fff"/><stop offset="0.18" stop-color="#8fb8ff"/><stop offset="1" stop-color="#3f86f4"/></radialGradient>
<radialGradient id="sg_cyan" cx="0.35" cy="0.3" r="0.75"><stop offset="0" stop-color="#fff"/><stop offset="0.18" stop-color="#9ff4fa"/><stop offset="1" stop-color="#3fdfee"/></radialGradient>
<radialGradient id="sg_red" cx="0.35" cy="0.3" r="0.75"><stop offset="0" stop-color="#fff"/><stop offset="0.18" stop-color="#ffa3a3"/><stop offset="1" stop-color="#f55"/></radialGradient>
<radialGradient id="sg_gray" cx="0.35" cy="0.3" r="0.75"><stop offset="0" stop-color="#fff"/><stop offset="0.18" stop-color="#bdbdbd"/><stop offset="1" stop-color="#4d4d4d"/></radialGradient>
<radialGradient id="sg_purple" cx="0.35" cy="0.3" r="0.75"><stop offset="0" stop-color="#fff"/><stop offset="0.18" stop-color="#d49cff"/><stop offset="1" stop-color="#a23ff0"/></radialGradient>
<radialGradient id="sg_mag" cx="0.35" cy="0.3" r="0.75"><stop offset="0" stop-color="#fff"/><stop offset="0.18" stop-color="#ff9fe6"/><stop offset="1" stop-color="#f03fcc"/></radialGradient>
<radialGradient id="sg_olive" cx="0.35" cy="0.3" r="0.75"><stop offset="0" stop-color="#fff"/><stop offset="0.18" stop-color="#c6c95a"/><stop offset="1" stop-color="#8f9400"/></radialGradient>
<radialGradient id="sg_orange" cx="0.35" cy="0.3" r="0.75"><stop offset="0" stop-color="#fff"/><stop offset="0.18" stop-color="#ffc79a"/><stop offset="1" stop-color="#f5934a"/></radialGradient>
<linearGradient id="arrgrad" x1="0.3" y1="1" x2="0.7" y2="0"><stop offset="0" stop-color="#ff8080" stop-opacity="0"/><stop offset="0.45" stop-color="#ff8888" stop-opacity="0.55"/><stop offset="1" stop-color="#ff7070" stop-opacity="1"/></linearGradient>
</defs>
<polygon points="728.7,260.5 769.4,300.5 728.7,340.5 688.0,300.5" fill="#fb9a9a" stroke="#f77" stroke-width="0.60" />
<polygon points="728.7,290.5 738.9,300.5 728.7,310.5 718.5,300.5" fill="none" stroke="#8a5a5a" stroke-width="0.50" />
<polygon points="728.7,280.5 749.1,300.5 728.7,320.5 708.4,300.5" fill="none" stroke="#8a5a5a" stroke-width="0.50" />
<polygon points="728.7,270.5 759.2,300.5 728.7,330.5 698.2,300.5" fill="none" stroke="#8a5a5a" stroke-width="0.50" />
<line x1="686.00" y1="300.50" x2="771.40" y2="300.50" stroke="#8a5a5a" stroke-width="0.50" />
<line x1="728.70" y1="258.50" x2="728.70" y2="342.50" stroke="#8a5a5a" stroke-width="0.50" />
<polygon points="728.7,277.0 738.7,300.5 728.7,335.0 716.2,300.5" fill="#6b7fd6" stroke="none" stroke-width="1.00" fill-opacity="0.88"/>
<rect x="634.00" y="259.00" width="17.00" height="9.00" fill="#fb9a9a" stroke="none" stroke-width="1.00" />
<rect x="634.00" y="270.00" width="17.00" height="7.50" fill="#a9c0f3" stroke="none" stroke-width="1.00" />
<text x="653.00" y="266.50" font-size="7.90" text-anchor="start" fill="#6a6a6a" font-weight="normal" >Au/Faceted-GaN/Si</text>
<text x="653.00" y="276.50" font-size="7.90" text-anchor="start" fill="#6a6a6a" font-weight="normal" >Au/GaN/Si</text>
<text x="728.50" y="256.00" font-size="7.90" text-anchor="middle" fill="#555" font-weight="normal" >V<tspan dy="1.58" font-size="5.21">on</tspan><tspan dy="-1.58"> (V</tspan><tspan dy="1.58" font-size="5.21">RHE</tspan><tspan dy="-1.58">)</tspan></text>
<text x="685.50" y="303.00" font-size="7.70" text-anchor="end" fill="#555" font-weight="normal" >Stability (h)</text>
<text x="771.00" y="303.00" font-size="7.70" text-anchor="start" fill="#555" font-weight="normal" >ABPE (%)</text>
<text x="727.80" y="348.20" font-size="7.80" text-anchor="middle" fill="#555" font-weight="normal" >J<tspan dy="1.56" font-size="5.15">sc</tspan><tspan dy="-1.56"> (mA cm</tspan><tspan dy="-2.81" font-size="5.15">-2</tspan><tspan dy="2.81">)</tspan></text>
<polygon points="821.8,319.7 830.1,291.1 836.3,292.9 828.5,275.0 812.3,285.9 818.6,287.7 810.2,316.3" fill="url(#arrgrad)" stroke="none" stroke-width="1.00" />
<polygon points="845.0,251.3 846.9,256.8 852.8,257.0 848.1,260.5 849.8,266.1 845.0,262.8 840.2,266.1 841.9,260.5 837.2,257.0 843.1,256.8" fill="#f01010" stroke="none" stroke-width="1.00" />
<text x="793.50" y="262.30" font-size="8.60" text-anchor="start" fill="#e8141c" font-weight="bold" >This work</text>
<circle cx="645.40" cy="360.60" r="4.30" fill="url(#sg_blue)" stroke="none" stroke-width="1.00" />
<text x="652.00" y="363.80" font-size="10.20" text-anchor="start" fill="#6aa3f6" font-weight="normal" >Pt NPs/TiO<tspan dy="2.04" font-size="6.73">2</tspan><tspan dy="-2.04">/n</tspan><tspan dy="-3.67" font-size="6.73">+</tspan><tspan dy="3.67">-p Si</tspan></text>
<circle cx="693.60" cy="384.00" r="4.30" fill="url(#sg_cyan)" stroke="none" stroke-width="1.00" />
<text x="657.60" y="398.60" font-size="10.20" text-anchor="start" fill="#6fe6f0" font-weight="normal" >Mo/MoS<tspan dy="2.04" font-size="6.73">2</tspan><tspan dy="-2.04">/n</tspan><tspan dy="-3.67" font-size="6.73">+</tspan><tspan dy="3.67">-p Si</tspan></text>
<circle cx="748.40" cy="360.60" r="4.30" fill="url(#sg_red)" stroke="none" stroke-width="1.00" />
<text x="754.60" y="363.80" font-size="10.20" text-anchor="start" fill="#f97575" font-weight="normal" >Pt NPs/TiO<tspan dy="2.04" font-size="6.73">2</tspan><tspan dy="-2.04">/n</tspan><tspan dy="-3.67" font-size="6.73">+</tspan><tspan dy="3.67">-n-p</tspan><tspan dy="-3.67" font-size="6.73">+</tspan><tspan dy="3.67"> Si</tspan></text>
<circle cx="815.30" cy="349.70" r="4.30" fill="url(#sg_gray)" stroke="none" stroke-width="1.00" />
<text x="858.40" y="340.70" font-size="10.20" text-anchor="end" fill="#707070" font-weight="normal" >Pt/Ta<tspan dy="2.04" font-size="6.73">2</tspan><tspan dy="-2.04">O</tspan><tspan dy="2.04" font-size="6.73">5</tspan><tspan dy="-2.04"> film/n</tspan><tspan dy="-3.67" font-size="6.73">+</tspan><tspan dy="3.67">-p Si</tspan></text>
<circle cx="817.00" cy="380.10" r="4.30" fill="url(#sg_purple)" stroke="none" stroke-width="1.00" />
<text x="811.80" y="383.60" font-size="10.20" text-anchor="end" fill="#ab5df2" font-weight="normal" >Pt/W-TMOS/n<tspan dy="-3.67" font-size="6.73">+</tspan><tspan dy="3.67">-p Si</tspan></text>
<circle cx="837.20" cy="379.20" r="4.30" fill="url(#sg_mag)" stroke="none" stroke-width="1.00" />
<text x="859.00" y="393.80" font-size="10.20" text-anchor="end" fill="#f46bd6" font-weight="normal" >Pt/GaN/n<tspan dy="-3.67" font-size="6.73">+</tspan><tspan dy="3.67">-p Si</tspan></text>
<circle cx="817.00" cy="406.40" r="4.30" fill="url(#sg_olive)" stroke="none" stroke-width="1.00" />
<text x="811.40" y="409.50" font-size="10.20" text-anchor="end" fill="#a3a71c" font-weight="normal" >Pt/Ti/SrTiO<tspan dy="2.04" font-size="6.73">3</tspan><tspan dy="-2.04">/p-Si</tspan></text>
<circle cx="850.60" cy="415.40" r="4.30" fill="url(#sg_orange)" stroke="none" stroke-width="1.00" />
<text x="859.00" y="427.80" font-size="10.20" text-anchor="end" fill="#f4ab74" font-weight="normal" >MoS<tspan dy="2.04" font-size="6.73">2</tspan><tspan dy="-2.04">/GaN/n</tspan><tspan dy="-3.67" font-size="6.73">+</tspan><tspan dy="3.67">-p Si</tspan></text>
<path d="M628.3 245.8 H862.4 V434.2 H628.3 V332.3 M628.3 329.2 V245.8" fill="none" stroke="#000" stroke-width="1.4"/>
<line x1="624.40" y1="334.10" x2="632.40" y2="330.30" stroke="#000" stroke-width="1.20" />
<line x1="624.40" y1="331.20" x2="632.40" y2="327.40" stroke="#000" stroke-width="1.20" />
<line x1="645.50" y1="434.20" x2="645.50" y2="431.20" stroke="#000" stroke-width="1.40" />
<text x="645.50" y="449.20" font-size="14.60" text-anchor="middle" fill="#000" font-weight="normal" >10</text>
<line x1="714.30" y1="434.20" x2="714.30" y2="431.20" stroke="#000" stroke-width="1.40" />
<text x="714.30" y="449.20" font-size="14.60" text-anchor="middle" fill="#000" font-weight="normal" >20</text>
<line x1="783.10" y1="434.20" x2="783.10" y2="431.20" stroke="#000" stroke-width="1.40" />
<text x="783.10" y="449.20" font-size="14.60" text-anchor="middle" fill="#000" font-weight="normal" >30</text>
<line x1="851.90" y1="434.20" x2="851.90" y2="431.20" stroke="#000" stroke-width="1.40" />
<text x="851.90" y="449.20" font-size="14.60" text-anchor="middle" fill="#000" font-weight="normal" >40</text>
<line x1="679.90" y1="434.20" x2="679.90" y2="432.60" stroke="#000" stroke-width="1.40" />
<line x1="748.70" y1="434.20" x2="748.70" y2="432.60" stroke="#000" stroke-width="1.40" />
<line x1="817.50" y1="434.20" x2="817.50" y2="432.60" stroke="#000" stroke-width="1.40" />
<line x1="628.30" y1="259.20" x2="632.30" y2="259.20" stroke="#000" stroke-width="1.40" />
<text x="624.00" y="263.70" font-size="14.60" text-anchor="end" fill="#000" font-weight="normal" >800</text>
<line x1="628.30" y1="349.00" x2="632.30" y2="349.00" stroke="#000" stroke-width="1.40" />
<text x="624.00" y="353.50" font-size="14.60" text-anchor="end" fill="#000" font-weight="normal" >200</text>
<line x1="628.30" y1="419.00" x2="632.30" y2="419.00" stroke="#000" stroke-width="1.40" />
<text x="624.00" y="423.50" font-size="14.60" text-anchor="end" fill="#000" font-weight="normal" >0</text>
<line x1="628.30" y1="295.00" x2="630.30" y2="295.00" stroke="#000" stroke-width="1.40" />
<line x1="628.30" y1="384.00" x2="630.30" y2="384.00" stroke="#000" stroke-width="1.40" />
<text x="596.30" y="339.00" font-size="14.50" text-anchor="middle" fill="#000" font-weight="normal" transform="rotate(-90 596.30 339.00)" >Stability (h)</text>
<text x="744.90" y="466.90" font-size="14.40" text-anchor="middle" fill="#000" font-weight="normal" >Current Density (mA/cm<tspan dy="-5.18" font-size="9.50">2</tspan><tspan dy="5.18">)</tspan></text>
<text x="599.60" y="249.80" font-size="18.80" text-anchor="start" fill="#000" font-weight="normal" >e</text>
</g>
</svg>
</body></html>
